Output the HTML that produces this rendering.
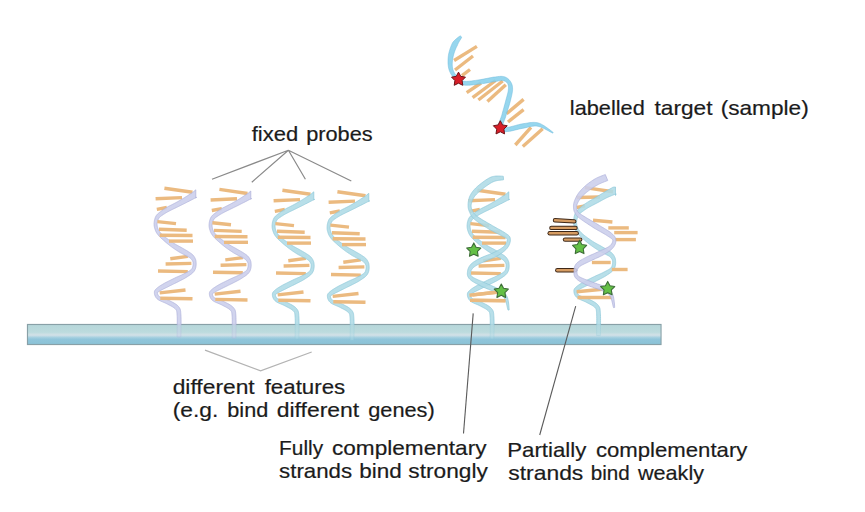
<!DOCTYPE html>
<html><head><meta charset="utf-8"><style>
html,body{margin:0;padding:0;background:#fff;}
svg{display:block;}
</style></head><body>
<svg width="865" height="512" viewBox="0 0 865 512">
<rect width="865" height="512" fill="#fff"/>
<defs><linearGradient id="bar" x1="0" y1="0" x2="0" y2="1">
<stop offset="0" stop-color="#b6d6da"/><stop offset="0.38" stop-color="#bcdbdd"/><stop offset="0.53" stop-color="#d3e1e7"/><stop offset="0.66" stop-color="#a3cfdf"/><stop offset="0.75" stop-color="#90c5da"/><stop offset="1" stop-color="#8bc2d6"/></linearGradient></defs><rect x="27.5" y="324.5" width="633.5" height="20" fill="url(#bar)" stroke="#88a0a7" stroke-width="1.2"/><g stroke="#ebba80" stroke-width="3.4" stroke-linecap="butt"><line x1="164.4" y1="188.2" x2="192.5" y2="192.3"/><line x1="155.6" y1="198.8" x2="182.0" y2="197.6"/><line x1="156.8" y1="209.3" x2="166.8" y2="207.5"/></g><g stroke="#ebba80" stroke-width="3.4" stroke-linecap="butt"><line x1="170.3" y1="258.7" x2="187.8" y2="256.4"/><line x1="165.6" y1="264.0" x2="191.4" y2="263.4"/><line x1="158.0" y1="271.0" x2="187.8" y2="271.6"/></g><path d="M195.80,189.80 L193.43,191.81 L192.87,192.20 L192.22,192.64 L191.48,193.14 L190.67,193.67 L189.82,194.23 L188.94,194.80 L188.05,195.38 L187.16,195.96 L186.30,196.52 L185.48,197.04 L184.73,197.53 L184.00,197.97 L183.28,198.40 L182.57,198.82 L181.86,199.23 L181.17,199.64 L180.47,200.04 L179.78,200.45 L179.09,200.85 L178.39,201.25 L177.68,201.65 L176.96,202.05 L176.24,202.46 L175.49,202.85 L174.72,203.25 L173.93,203.66 L173.12,204.07 L172.30,204.48 L171.49,204.89 L170.68,205.30 L169.88,205.70 L169.10,206.10 L168.34,206.50 L167.62,206.89 L166.94,207.27 L166.31,207.65 L165.71,208.01 L165.14,208.36 L164.60,208.70 L164.08,209.04 L163.58,209.37 L163.09,209.70 L162.62,210.03 L162.15,210.37 L161.70,210.71 L161.25,211.05 L160.82,211.39 L160.40,211.71 L159.99,212.03 L159.57,212.34 L159.15,212.67 L158.73,213.01 L158.30,213.36 L157.88,213.73 L157.46,214.13 L157.06,214.56 L156.67,215.02 L156.31,215.52 L155.97,216.05 L155.68,216.62 L155.41,217.20 L155.18,217.80 L154.97,218.41 L154.79,219.03 L154.63,219.65 L154.48,220.28 L154.37,220.90 L154.27,221.52 L154.19,222.12 L154.14,222.71 L154.10,223.28 L154.07,223.85 L154.07,224.42 L154.09,224.98 L154.14,225.53 L154.21,226.07 L154.30,226.59 L154.40,227.11 L154.52,227.61 L154.65,228.10 L154.79,228.57 L154.93,229.03 L155.08,229.48 L155.23,229.94 L155.40,230.38 L155.57,230.82 L155.76,231.25 L155.96,231.67 L156.17,232.08 L156.40,232.48 L156.64,232.89 L156.89,233.29 L157.16,233.68 L157.44,234.08 L157.74,234.48 L158.04,234.88 L158.35,235.27 L158.67,235.65 L159.00,236.03 L159.35,236.41 L159.71,236.79 L160.09,237.17 L160.49,237.56 L160.92,237.97 L161.38,238.39 L161.87,238.83 L162.40,239.29 L162.96,239.81 L163.57,240.36 L164.22,240.94 L164.91,241.54 L165.63,242.15 L166.36,242.77 L167.11,243.39 L167.87,244.01 L168.62,244.62 L169.36,245.21 L170.09,245.78 L170.79,246.32 L171.49,246.84 L172.18,247.35 L172.87,247.84 L173.56,248.32 L174.24,248.78 L174.91,249.24 L175.58,249.68 L176.23,250.11 L176.88,250.53 L177.51,250.95 L178.12,251.35 L178.72,251.75 L179.35,252.11 L179.98,252.46 L180.59,252.80 L181.19,253.12 L181.77,253.43 L182.34,253.74 L182.90,254.03 L183.44,254.32 L183.96,254.60 L184.47,254.88 L184.96,255.16 L185.46,255.45 L185.99,255.74 L186.53,256.01 L187.05,256.27 L187.54,256.51 L188.01,256.74 L188.46,256.97 L188.87,257.19 L189.25,257.41 L189.61,257.63 L189.93,257.85 L190.22,258.08 L190.50,258.33 L190.81,258.62 L191.11,258.94 L191.40,259.27 L191.68,259.60 L191.93,259.95 L192.17,260.30 L192.39,260.66 L192.58,261.02 L192.75,261.40 L192.90,261.79 L193.01,262.20 L193.11,262.63 L193.13,263.12 L193.13,263.66 L193.11,264.23 L193.07,264.81 L193.00,265.40 L192.90,265.99 L192.78,266.57 L192.62,267.14 L192.44,267.68 L192.22,268.19 L191.97,268.65 L191.69,269.08 L191.34,269.45 L190.93,269.83 L190.45,270.21 L189.90,270.59 L189.31,270.97 L188.68,271.35 L188.01,271.73 L187.31,272.10 L186.59,272.47 L185.87,272.84 L185.14,273.22 L184.43,273.59 L183.77,273.95 L183.13,274.28 L182.48,274.60 L181.81,274.91 L181.14,275.21 L180.44,275.52 L179.73,275.83 L179.00,276.14 L178.25,276.47 L177.47,276.81 L176.66,277.17 L175.84,277.55 L175.00,277.96 L174.12,278.39 L173.20,278.84 L172.26,279.30 L171.29,279.77 L170.32,280.24 L169.35,280.72 L168.39,281.19 L167.46,281.66 L166.55,282.11 L165.69,282.55 L164.88,282.98 L164.13,283.41 L163.41,283.84 L162.70,284.26 L162.01,284.67 L161.34,285.07 L160.70,285.48 L160.08,285.87 L159.49,286.26 L158.92,286.65 L158.39,287.03 L157.88,287.41 L157.43,287.78 L157.04,288.12 L156.69,288.42 L156.35,288.72 L156.01,289.03 L155.69,289.35 L155.38,289.70 L155.08,290.08 L154.82,290.52 L154.60,291.01 L154.46,291.53 L154.39,292.06 L154.40,292.58 L154.41,293.08 L154.45,293.59 L154.54,294.13 L154.66,294.69 L154.83,295.26 L155.05,295.85 L155.32,296.44 L155.65,297.03 L156.04,297.62 L156.50,298.19 L157.02,298.74 L157.62,299.27 L158.30,299.78 L159.05,300.24 L159.85,300.67 L160.69,301.07 L161.56,301.46 L162.45,301.83 L163.34,302.20 L164.23,302.57 L165.09,302.94 L165.91,303.31 L166.67,303.69 L167.39,304.08 L168.16,304.48 L168.96,304.89 L169.76,305.31 L170.56,305.72 L171.33,306.13 L172.08,306.55 L172.79,306.97 L173.45,307.38 L174.05,307.80 L174.57,308.21 L175.02,308.61 L175.40,309.02 L175.76,309.44 L176.05,309.81 L176.26,310.10 L176.40,310.33 L176.51,310.56 L176.61,310.83 L176.70,311.18 L176.78,311.67 L176.86,312.29 L176.94,313.07 L177.02,314.01 L177.10,315.12 L177.18,316.46 L177.22,318.11 L177.25,320.00 L177.26,322.06 L177.25,324.23 L177.23,326.44 L177.21,328.62 L177.18,330.73 L177.15,332.67 L177.12,334.41 L177.11,335.87 L177.10,336.99 L180.90,337.01 L180.91,335.91 L180.92,334.46 L180.95,332.73 L180.98,330.78 L181.01,328.67 L181.03,326.47 L181.05,324.25 L181.06,322.06 L181.05,319.97 L181.02,318.03 L180.97,316.31 L180.90,314.88 L180.82,313.73 L180.76,312.76 L180.69,311.91 L180.61,311.15 L180.51,310.46 L180.37,309.80 L180.17,309.17 L179.92,308.56 L179.60,308.00 L179.25,307.47 L178.86,306.95 L178.40,306.38 L177.81,305.75 L177.14,305.14 L176.42,304.58 L175.66,304.05 L174.88,303.55 L174.07,303.08 L173.25,302.62 L172.42,302.18 L171.60,301.75 L170.79,301.33 L170.00,300.93 L169.21,300.52 L168.34,300.13 L167.42,299.75 L166.49,299.41 L165.55,299.08 L164.62,298.77 L163.72,298.47 L162.85,298.17 L162.02,297.88 L161.27,297.58 L160.60,297.29 L160.03,297.01 L159.58,296.73 L159.20,296.42 L158.86,296.09 L158.57,295.73 L158.31,295.37 L158.09,294.99 L157.90,294.62 L157.74,294.24 L157.62,293.87 L157.52,293.51 L157.46,293.18 L157.42,292.87 L157.40,292.62 L157.45,292.46 L157.51,292.38 L157.57,292.34 L157.63,292.30 L157.73,292.25 L157.86,292.17 L158.05,292.05 L158.29,291.90 L158.59,291.73 L158.94,291.52 L159.35,291.28 L159.77,291.02 L160.20,290.75 L160.66,290.49 L161.15,290.21 L161.69,289.91 L162.27,289.61 L162.88,289.30 L163.52,288.98 L164.19,288.64 L164.89,288.30 L165.61,287.95 L166.36,287.59 L167.12,287.22 L167.90,286.82 L168.73,286.39 L169.61,285.95 L170.52,285.49 L171.47,285.03 L172.43,284.56 L173.39,284.09 L174.36,283.62 L175.31,283.16 L176.23,282.71 L177.12,282.27 L177.96,281.85 L178.74,281.44 L179.49,281.05 L180.23,280.68 L180.95,280.31 L181.67,279.94 L182.38,279.58 L183.09,279.21 L183.79,278.84 L184.49,278.46 L185.18,278.06 L185.88,277.64 L186.57,277.21 L187.23,276.77 L187.90,276.33 L188.59,275.88 L189.29,275.42 L190.00,274.94 L190.70,274.45 L191.39,273.94 L192.05,273.40 L192.69,272.84 L193.28,272.24 L193.83,271.60 L194.31,270.92 L194.74,270.23 L195.09,269.51 L195.39,268.77 L195.63,268.02 L195.82,267.27 L195.96,266.52 L196.06,265.78 L196.12,265.05 L196.16,264.34 L196.16,263.66 L196.14,263.00 L196.09,262.37 L196.06,261.74 L195.99,261.10 L195.87,260.48 L195.71,259.87 L195.52,259.28 L195.29,258.71 L195.04,258.16 L194.77,257.63 L194.47,257.12 L194.17,256.63 L193.84,256.15 L193.50,255.67 L193.09,255.19 L192.65,254.74 L192.19,254.31 L191.72,253.92 L191.24,253.56 L190.76,253.22 L190.27,252.89 L189.80,252.58 L189.32,252.27 L188.86,251.97 L188.41,251.66 L187.94,251.35 L187.43,251.03 L186.89,250.70 L186.35,250.38 L185.80,250.07 L185.25,249.75 L184.70,249.44 L184.14,249.12 L183.58,248.80 L183.01,248.48 L182.44,248.15 L181.86,247.81 L181.28,247.45 L180.64,247.11 L179.99,246.76 L179.33,246.41 L178.66,246.05 L177.99,245.69 L177.31,245.31 L176.63,244.93 L175.95,244.54 L175.26,244.14 L174.58,243.73 L173.89,243.31 L173.21,242.88 L172.50,242.42 L171.77,241.93 L171.01,241.41 L170.24,240.87 L169.47,240.32 L168.70,239.77 L167.94,239.22 L167.20,238.67 L166.49,238.14 L165.81,237.63 L165.18,237.15 L164.60,236.71 L164.09,236.27 L163.61,235.87 L163.17,235.49 L162.77,235.12 L162.39,234.78 L162.04,234.45 L161.71,234.13 L161.40,233.81 L161.11,233.50 L160.82,233.18 L160.54,232.86 L160.26,232.52 L159.99,232.18 L159.74,231.84 L159.50,231.52 L159.28,231.20 L159.07,230.88 L158.88,230.56 L158.69,230.24 L158.52,229.92 L158.36,229.59 L158.21,229.24 L158.06,228.89 L157.92,228.52 L157.79,228.12 L157.66,227.71 L157.54,227.30 L157.43,226.88 L157.34,226.46 L157.25,226.05 L157.18,225.62 L157.12,225.20 L157.09,224.78 L157.07,224.36 L157.07,223.94 L157.10,223.52 L157.17,223.07 L157.26,222.58 L157.37,222.08 L157.49,221.57 L157.64,221.06 L157.80,220.55 L157.98,220.05 L158.17,219.56 L158.37,219.10 L158.59,218.68 L158.81,218.29 L159.03,217.95 L159.25,217.64 L159.49,217.36 L159.75,217.10 L160.04,216.83 L160.35,216.58 L160.69,216.32 L161.05,216.06 L161.43,215.79 L161.84,215.51 L162.28,215.23 L162.73,214.93 L163.18,214.61 L163.62,214.31 L164.05,214.03 L164.48,213.75 L164.92,213.47 L165.36,213.19 L165.82,212.92 L166.30,212.64 L166.80,212.35 L167.32,212.06 L167.87,211.76 L168.45,211.45 L169.06,211.13 L169.70,210.79 L170.39,210.44 L171.12,210.07 L171.88,209.70 L172.67,209.31 L173.47,208.93 L174.30,208.53 L175.12,208.13 L175.95,207.73 L176.77,207.33 L177.58,206.94 L178.36,206.54 L179.12,206.17 L179.87,205.80 L180.61,205.44 L181.34,205.08 L182.07,204.72 L182.80,204.36 L183.53,203.99 L184.26,203.62 L185.00,203.24 L185.75,202.86 L186.50,202.47 L187.27,202.07 L188.10,201.66 L188.99,201.22 L189.92,200.75 L190.87,200.26 L191.83,199.77 L192.77,199.28 L193.68,198.81 L194.54,198.37 L195.33,197.97 L196.04,197.62 L196.65,197.33 L195.80,198.00Z" fill="#cbceec" fill-opacity="0.88" stroke="#adb0da" stroke-width="0.7" stroke-linejoin="round"/><g stroke="#ebba80" stroke-width="3.4" stroke-linecap="butt"><line x1="157.4" y1="221.6" x2="176.0" y2="223.6"/><line x1="159.0" y1="229.2" x2="186.7" y2="230.2"/><line x1="159.7" y1="235.3" x2="192.5" y2="235.5"/><line x1="169.0" y1="241.1" x2="193.0" y2="241.1"/></g><g stroke="#ebba80" stroke-width="3.4" stroke-linecap="butt"><line x1="159.7" y1="292.9" x2="185.5" y2="290.0"/><line x1="160.3" y1="298.2" x2="192.5" y2="298.8"/></g><g stroke="#ebba80" stroke-width="3.4" stroke-linecap="butt"><line x1="219.4" y1="189.4" x2="247.5" y2="193.5"/><line x1="210.6" y1="200.0" x2="237.0" y2="198.8"/><line x1="211.8" y1="210.5" x2="221.8" y2="208.7"/></g><g stroke="#ebba80" stroke-width="3.4" stroke-linecap="butt"><line x1="225.3" y1="259.9" x2="242.8" y2="257.6"/><line x1="220.6" y1="265.2" x2="246.4" y2="264.6"/><line x1="213.0" y1="272.2" x2="242.8" y2="272.8"/></g><path d="M250.80,191.00 L248.43,193.01 L247.87,193.40 L247.22,193.84 L246.48,194.34 L245.67,194.87 L244.82,195.43 L243.94,196.00 L243.05,196.58 L242.16,197.16 L241.30,197.72 L240.48,198.24 L239.73,198.73 L239.00,199.17 L238.28,199.60 L237.57,200.02 L236.86,200.43 L236.17,200.84 L235.47,201.24 L234.78,201.65 L234.09,202.05 L233.39,202.45 L232.68,202.85 L231.96,203.25 L231.24,203.66 L230.49,204.05 L229.72,204.45 L228.93,204.86 L228.12,205.27 L227.30,205.68 L226.49,206.09 L225.68,206.50 L224.88,206.90 L224.10,207.30 L223.34,207.70 L222.62,208.09 L221.94,208.47 L221.31,208.85 L220.71,209.21 L220.14,209.56 L219.60,209.90 L219.08,210.24 L218.58,210.57 L218.09,210.90 L217.62,211.23 L217.15,211.57 L216.70,211.91 L216.25,212.25 L215.82,212.59 L215.40,212.91 L214.99,213.23 L214.57,213.54 L214.15,213.87 L213.73,214.21 L213.30,214.56 L212.88,214.93 L212.46,215.33 L212.06,215.76 L211.67,216.22 L211.31,216.72 L210.97,217.25 L210.68,217.82 L210.41,218.40 L210.18,219.00 L209.97,219.61 L209.79,220.23 L209.63,220.85 L209.48,221.48 L209.37,222.10 L209.27,222.72 L209.19,223.32 L209.14,223.91 L209.10,224.48 L209.07,225.05 L209.07,225.62 L209.09,226.18 L209.14,226.73 L209.21,227.27 L209.30,227.79 L209.40,228.31 L209.52,228.81 L209.65,229.30 L209.79,229.77 L209.93,230.23 L210.08,230.68 L210.23,231.14 L210.40,231.58 L210.57,232.02 L210.76,232.45 L210.96,232.87 L211.17,233.28 L211.40,233.68 L211.64,234.09 L211.89,234.49 L212.16,234.88 L212.44,235.28 L212.74,235.68 L213.04,236.08 L213.35,236.47 L213.67,236.85 L214.00,237.23 L214.35,237.61 L214.71,237.99 L215.09,238.37 L215.49,238.76 L215.92,239.17 L216.38,239.59 L216.87,240.03 L217.40,240.49 L217.96,241.01 L218.57,241.56 L219.22,242.14 L219.91,242.74 L220.63,243.35 L221.36,243.97 L222.11,244.59 L222.87,245.21 L223.62,245.82 L224.36,246.41 L225.09,246.98 L225.79,247.52 L226.49,248.04 L227.18,248.55 L227.87,249.04 L228.56,249.52 L229.24,249.98 L229.91,250.44 L230.58,250.88 L231.23,251.31 L231.88,251.73 L232.51,252.15 L233.12,252.55 L233.72,252.95 L234.35,253.31 L234.98,253.66 L235.59,254.00 L236.19,254.32 L236.77,254.63 L237.34,254.94 L237.90,255.23 L238.44,255.52 L238.96,255.80 L239.47,256.08 L239.96,256.36 L240.46,256.65 L240.99,256.94 L241.53,257.21 L242.05,257.47 L242.54,257.71 L243.01,257.94 L243.46,258.17 L243.87,258.39 L244.25,258.61 L244.61,258.83 L244.93,259.05 L245.22,259.28 L245.50,259.53 L245.81,259.82 L246.11,260.14 L246.40,260.47 L246.68,260.80 L246.93,261.15 L247.17,261.50 L247.39,261.86 L247.58,262.22 L247.75,262.60 L247.90,262.99 L248.01,263.40 L248.11,263.83 L248.13,264.32 L248.13,264.86 L248.11,265.43 L248.07,266.01 L248.00,266.60 L247.90,267.19 L247.78,267.77 L247.62,268.34 L247.44,268.88 L247.22,269.39 L246.97,269.85 L246.69,270.28 L246.34,270.65 L245.93,271.03 L245.45,271.41 L244.90,271.79 L244.31,272.17 L243.68,272.55 L243.01,272.93 L242.31,273.30 L241.59,273.67 L240.87,274.04 L240.14,274.42 L239.43,274.79 L238.77,275.15 L238.13,275.48 L237.48,275.80 L236.81,276.11 L236.14,276.41 L235.44,276.72 L234.73,277.03 L234.00,277.34 L233.25,277.67 L232.47,278.01 L231.66,278.37 L230.84,278.75 L230.00,279.16 L229.12,279.59 L228.20,280.04 L227.26,280.50 L226.29,280.97 L225.32,281.44 L224.35,281.92 L223.39,282.39 L222.46,282.86 L221.55,283.31 L220.69,283.75 L219.88,284.18 L219.13,284.61 L218.41,285.04 L217.70,285.46 L217.01,285.87 L216.34,286.27 L215.70,286.68 L215.08,287.07 L214.49,287.46 L213.92,287.85 L213.39,288.23 L212.88,288.61 L212.43,288.98 L212.04,289.32 L211.69,289.62 L211.35,289.92 L211.01,290.23 L210.69,290.55 L210.38,290.90 L210.08,291.28 L209.82,291.72 L209.60,292.21 L209.46,292.73 L209.39,293.26 L209.40,293.78 L209.41,294.28 L209.45,294.79 L209.54,295.33 L209.66,295.89 L209.83,296.46 L210.05,297.05 L210.32,297.64 L210.65,298.23 L211.04,298.82 L211.50,299.39 L212.02,299.94 L212.62,300.47 L213.30,300.98 L214.05,301.44 L214.85,301.87 L215.69,302.27 L216.56,302.66 L217.45,303.03 L218.34,303.40 L219.23,303.77 L220.09,304.14 L220.91,304.51 L221.67,304.89 L222.39,305.28 L223.16,305.68 L223.96,306.09 L224.76,306.51 L225.56,306.92 L226.33,307.33 L227.08,307.75 L227.79,308.17 L228.45,308.58 L229.05,309.00 L229.57,309.41 L230.02,309.81 L230.40,310.22 L230.76,310.64 L231.05,311.01 L231.26,311.30 L231.40,311.53 L231.51,311.76 L231.61,312.03 L231.70,312.38 L231.78,312.87 L231.86,313.49 L231.94,314.27 L232.02,315.21 L232.10,316.32 L232.18,317.66 L232.22,319.31 L232.25,321.20 L232.26,323.26 L232.25,325.43 L232.23,327.64 L232.21,329.82 L232.18,331.93 L232.15,333.87 L232.12,335.61 L232.11,337.07 L232.10,338.19 L235.90,338.21 L235.91,337.11 L235.92,335.66 L235.95,333.93 L235.98,331.98 L236.01,329.87 L236.03,327.67 L236.05,325.45 L236.06,323.26 L236.05,321.17 L236.02,319.23 L235.97,317.51 L235.90,316.08 L235.82,314.93 L235.76,313.96 L235.69,313.11 L235.61,312.35 L235.51,311.66 L235.37,311.00 L235.17,310.37 L234.92,309.76 L234.60,309.20 L234.25,308.67 L233.86,308.15 L233.40,307.58 L232.81,306.95 L232.14,306.34 L231.42,305.78 L230.66,305.25 L229.88,304.75 L229.07,304.28 L228.25,303.82 L227.42,303.38 L226.60,302.95 L225.79,302.53 L225.00,302.13 L224.21,301.72 L223.34,301.33 L222.42,300.95 L221.49,300.61 L220.55,300.28 L219.62,299.97 L218.72,299.67 L217.85,299.37 L217.02,299.08 L216.27,298.78 L215.60,298.49 L215.03,298.21 L214.58,297.93 L214.20,297.62 L213.86,297.29 L213.57,296.93 L213.31,296.57 L213.09,296.19 L212.90,295.82 L212.74,295.44 L212.62,295.07 L212.52,294.71 L212.46,294.38 L212.42,294.07 L212.40,293.82 L212.45,293.66 L212.51,293.58 L212.57,293.54 L212.63,293.50 L212.73,293.45 L212.86,293.37 L213.05,293.25 L213.29,293.10 L213.59,292.93 L213.94,292.72 L214.35,292.48 L214.77,292.22 L215.20,291.95 L215.66,291.69 L216.15,291.41 L216.69,291.11 L217.27,290.81 L217.88,290.50 L218.52,290.18 L219.19,289.84 L219.89,289.50 L220.61,289.15 L221.36,288.79 L222.12,288.42 L222.90,288.02 L223.73,287.59 L224.61,287.15 L225.52,286.69 L226.47,286.23 L227.43,285.76 L228.39,285.29 L229.36,284.82 L230.31,284.36 L231.23,283.91 L232.12,283.47 L232.96,283.05 L233.74,282.64 L234.49,282.25 L235.23,281.88 L235.95,281.51 L236.67,281.14 L237.38,280.78 L238.09,280.41 L238.79,280.04 L239.49,279.66 L240.18,279.26 L240.88,278.84 L241.57,278.41 L242.23,277.97 L242.90,277.53 L243.59,277.08 L244.29,276.62 L245.00,276.14 L245.70,275.65 L246.39,275.14 L247.05,274.60 L247.69,274.04 L248.28,273.44 L248.83,272.80 L249.31,272.12 L249.74,271.43 L250.09,270.71 L250.39,269.97 L250.63,269.22 L250.82,268.47 L250.96,267.72 L251.06,266.98 L251.12,266.25 L251.16,265.54 L251.16,264.86 L251.14,264.20 L251.09,263.57 L251.06,262.94 L250.99,262.30 L250.87,261.68 L250.71,261.07 L250.52,260.48 L250.29,259.91 L250.04,259.36 L249.77,258.83 L249.47,258.32 L249.17,257.83 L248.84,257.35 L248.50,256.87 L248.09,256.39 L247.65,255.94 L247.19,255.51 L246.72,255.12 L246.24,254.76 L245.76,254.42 L245.27,254.09 L244.80,253.78 L244.32,253.47 L243.86,253.17 L243.41,252.86 L242.94,252.55 L242.43,252.23 L241.89,251.90 L241.35,251.58 L240.80,251.27 L240.25,250.95 L239.70,250.64 L239.14,250.32 L238.58,250.00 L238.01,249.68 L237.44,249.35 L236.86,249.01 L236.28,248.65 L235.64,248.31 L234.99,247.96 L234.33,247.61 L233.66,247.25 L232.99,246.89 L232.31,246.51 L231.63,246.13 L230.95,245.74 L230.26,245.34 L229.58,244.93 L228.89,244.51 L228.21,244.08 L227.50,243.62 L226.77,243.13 L226.01,242.61 L225.24,242.07 L224.47,241.52 L223.70,240.97 L222.94,240.42 L222.20,239.87 L221.49,239.34 L220.81,238.83 L220.18,238.35 L219.60,237.91 L219.09,237.47 L218.61,237.07 L218.17,236.69 L217.77,236.32 L217.39,235.98 L217.04,235.65 L216.71,235.33 L216.40,235.01 L216.11,234.70 L215.82,234.38 L215.54,234.06 L215.26,233.72 L214.99,233.38 L214.74,233.04 L214.50,232.72 L214.28,232.40 L214.07,232.08 L213.88,231.76 L213.69,231.44 L213.52,231.12 L213.36,230.79 L213.21,230.44 L213.06,230.09 L212.92,229.72 L212.79,229.32 L212.66,228.91 L212.54,228.50 L212.43,228.08 L212.34,227.66 L212.25,227.25 L212.18,226.82 L212.12,226.40 L212.09,225.98 L212.07,225.56 L212.07,225.14 L212.10,224.72 L212.17,224.27 L212.26,223.78 L212.37,223.28 L212.49,222.77 L212.64,222.26 L212.80,221.75 L212.98,221.25 L213.17,220.76 L213.37,220.30 L213.59,219.88 L213.81,219.49 L214.03,219.15 L214.25,218.84 L214.49,218.56 L214.75,218.30 L215.04,218.03 L215.35,217.78 L215.69,217.52 L216.05,217.26 L216.43,216.99 L216.84,216.71 L217.28,216.43 L217.73,216.13 L218.18,215.81 L218.62,215.51 L219.05,215.23 L219.48,214.95 L219.92,214.67 L220.36,214.39 L220.82,214.12 L221.30,213.84 L221.80,213.55 L222.32,213.26 L222.87,212.96 L223.45,212.65 L224.06,212.33 L224.70,211.99 L225.39,211.64 L226.12,211.27 L226.88,210.90 L227.67,210.51 L228.47,210.13 L229.30,209.73 L230.12,209.33 L230.95,208.93 L231.77,208.53 L232.58,208.14 L233.36,207.74 L234.12,207.37 L234.87,207.00 L235.61,206.64 L236.34,206.28 L237.07,205.92 L237.80,205.56 L238.53,205.19 L239.26,204.82 L240.00,204.44 L240.75,204.06 L241.50,203.67 L242.27,203.27 L243.10,202.86 L243.99,202.42 L244.92,201.95 L245.87,201.46 L246.83,200.97 L247.77,200.48 L248.68,200.01 L249.54,199.57 L250.33,199.17 L251.04,198.82 L251.65,198.53 L250.80,199.20Z" fill="#cbceec" fill-opacity="0.88" stroke="#adb0da" stroke-width="0.7" stroke-linejoin="round"/><g stroke="#ebba80" stroke-width="3.4" stroke-linecap="butt"><line x1="212.4" y1="222.8" x2="231.0" y2="224.8"/><line x1="214.0" y1="230.4" x2="241.7" y2="231.4"/><line x1="214.7" y1="236.5" x2="247.5" y2="236.7"/><line x1="224.0" y1="242.3" x2="248.0" y2="242.3"/></g><g stroke="#ebba80" stroke-width="3.4" stroke-linecap="butt"><line x1="214.7" y1="294.1" x2="240.5" y2="291.2"/><line x1="215.3" y1="299.4" x2="247.5" y2="300.0"/></g><g stroke="#ebba80" stroke-width="3.4" stroke-linecap="butt"><line x1="282.4" y1="190.2" x2="310.5" y2="194.3"/><line x1="273.6" y1="200.8" x2="300.0" y2="199.6"/><line x1="274.8" y1="211.3" x2="284.8" y2="209.5"/></g><g stroke="#ebba80" stroke-width="3.4" stroke-linecap="butt"><line x1="288.3" y1="260.7" x2="305.8" y2="258.4"/><line x1="283.6" y1="266.0" x2="309.4" y2="265.4"/><line x1="276.0" y1="273.0" x2="305.8" y2="273.6"/></g><path d="M313.80,191.80 L311.43,193.81 L310.87,194.20 L310.22,194.64 L309.48,195.14 L308.67,195.67 L307.82,196.23 L306.94,196.80 L306.05,197.38 L305.16,197.96 L304.30,198.52 L303.48,199.04 L302.73,199.53 L302.00,199.97 L301.28,200.40 L300.57,200.82 L299.86,201.23 L299.17,201.64 L298.47,202.04 L297.78,202.45 L297.09,202.85 L296.39,203.25 L295.68,203.65 L294.96,204.05 L294.24,204.46 L293.49,204.85 L292.72,205.25 L291.93,205.66 L291.12,206.07 L290.30,206.48 L289.49,206.89 L288.68,207.30 L287.88,207.70 L287.10,208.10 L286.34,208.50 L285.62,208.89 L284.94,209.27 L284.31,209.65 L283.71,210.01 L283.14,210.36 L282.60,210.70 L282.08,211.04 L281.58,211.37 L281.09,211.70 L280.62,212.03 L280.15,212.37 L279.70,212.71 L279.25,213.05 L278.82,213.39 L278.40,213.71 L277.99,214.03 L277.57,214.34 L277.15,214.67 L276.73,215.01 L276.30,215.36 L275.88,215.73 L275.46,216.13 L275.06,216.56 L274.67,217.02 L274.31,217.52 L273.97,218.05 L273.68,218.62 L273.41,219.20 L273.18,219.80 L272.97,220.41 L272.79,221.03 L272.63,221.65 L272.48,222.28 L272.37,222.90 L272.27,223.52 L272.19,224.12 L272.14,224.71 L272.10,225.28 L272.07,225.85 L272.07,226.42 L272.09,226.98 L272.14,227.53 L272.21,228.07 L272.30,228.59 L272.40,229.11 L272.52,229.61 L272.65,230.10 L272.79,230.57 L272.93,231.03 L273.08,231.48 L273.23,231.94 L273.40,232.38 L273.57,232.82 L273.76,233.25 L273.96,233.67 L274.17,234.08 L274.40,234.48 L274.64,234.89 L274.89,235.29 L275.16,235.68 L275.44,236.08 L275.74,236.48 L276.04,236.88 L276.35,237.27 L276.67,237.65 L277.00,238.03 L277.35,238.41 L277.71,238.79 L278.09,239.17 L278.49,239.56 L278.92,239.97 L279.38,240.39 L279.87,240.83 L280.40,241.29 L280.96,241.81 L281.57,242.36 L282.22,242.94 L282.91,243.54 L283.63,244.15 L284.36,244.77 L285.11,245.39 L285.87,246.01 L286.62,246.62 L287.36,247.21 L288.09,247.78 L288.79,248.32 L289.49,248.84 L290.18,249.35 L290.87,249.84 L291.56,250.32 L292.24,250.78 L292.91,251.24 L293.58,251.68 L294.23,252.11 L294.88,252.53 L295.51,252.95 L296.12,253.35 L296.72,253.75 L297.35,254.11 L297.98,254.46 L298.59,254.80 L299.19,255.12 L299.77,255.43 L300.34,255.74 L300.90,256.03 L301.44,256.32 L301.96,256.60 L302.47,256.88 L302.96,257.16 L303.46,257.45 L303.99,257.74 L304.53,258.01 L305.05,258.27 L305.54,258.51 L306.01,258.74 L306.46,258.97 L306.87,259.19 L307.25,259.41 L307.61,259.63 L307.93,259.85 L308.22,260.08 L308.50,260.33 L308.81,260.62 L309.11,260.94 L309.40,261.27 L309.68,261.60 L309.93,261.95 L310.17,262.30 L310.39,262.66 L310.58,263.02 L310.75,263.40 L310.90,263.79 L311.01,264.20 L311.11,264.63 L311.13,265.12 L311.13,265.66 L311.11,266.23 L311.07,266.81 L311.00,267.40 L310.90,267.99 L310.78,268.57 L310.62,269.14 L310.44,269.68 L310.22,270.19 L309.97,270.65 L309.69,271.08 L309.34,271.45 L308.93,271.83 L308.45,272.21 L307.90,272.59 L307.31,272.97 L306.68,273.35 L306.01,273.73 L305.31,274.10 L304.59,274.47 L303.87,274.84 L303.14,275.22 L302.43,275.59 L301.77,275.95 L301.13,276.28 L300.48,276.60 L299.81,276.91 L299.14,277.21 L298.44,277.52 L297.73,277.83 L297.00,278.14 L296.25,278.47 L295.47,278.81 L294.66,279.17 L293.84,279.55 L293.00,279.96 L292.12,280.39 L291.20,280.84 L290.26,281.30 L289.29,281.77 L288.32,282.24 L287.35,282.72 L286.39,283.19 L285.46,283.66 L284.55,284.11 L283.69,284.55 L282.88,284.98 L282.13,285.41 L281.41,285.84 L280.70,286.26 L280.01,286.67 L279.34,287.07 L278.70,287.48 L278.08,287.87 L277.49,288.26 L276.92,288.65 L276.39,289.03 L275.88,289.41 L275.43,289.78 L275.04,290.12 L274.69,290.42 L274.35,290.72 L274.01,291.03 L273.69,291.35 L273.38,291.70 L273.08,292.08 L272.82,292.52 L272.60,293.01 L272.46,293.53 L272.39,294.06 L272.40,294.58 L272.41,295.08 L272.45,295.59 L272.54,296.13 L272.66,296.69 L272.83,297.26 L273.05,297.85 L273.32,298.44 L273.65,299.03 L274.04,299.62 L274.50,300.19 L275.02,300.74 L275.62,301.27 L276.30,301.78 L277.05,302.24 L277.85,302.67 L278.69,303.07 L279.56,303.46 L280.45,303.83 L281.34,304.20 L282.23,304.57 L283.09,304.94 L283.91,305.31 L284.67,305.69 L285.39,306.08 L286.16,306.48 L286.96,306.89 L287.76,307.31 L288.56,307.72 L289.33,308.13 L290.08,308.55 L290.79,308.97 L291.45,309.38 L292.05,309.80 L292.57,310.21 L293.02,310.61 L293.40,311.02 L293.76,311.44 L294.05,311.81 L294.26,312.10 L294.40,312.33 L294.51,312.56 L294.61,312.83 L294.70,313.18 L294.78,313.67 L294.86,314.29 L294.94,315.07 L295.02,316.01 L295.10,317.12 L295.18,318.46 L295.22,320.11 L295.25,322.00 L295.26,324.06 L295.25,326.23 L295.23,328.44 L295.21,330.62 L295.18,332.73 L295.15,334.67 L295.12,336.41 L295.11,337.87 L295.10,338.99 L298.90,339.01 L298.91,337.91 L298.92,336.46 L298.95,334.73 L298.98,332.78 L299.01,330.67 L299.03,328.47 L299.05,326.25 L299.06,324.06 L299.05,321.97 L299.02,320.03 L298.97,318.31 L298.90,316.88 L298.82,315.73 L298.76,314.76 L298.69,313.91 L298.61,313.15 L298.51,312.46 L298.37,311.80 L298.17,311.17 L297.92,310.56 L297.60,310.00 L297.25,309.47 L296.86,308.95 L296.40,308.38 L295.81,307.75 L295.14,307.14 L294.42,306.58 L293.66,306.05 L292.88,305.55 L292.07,305.08 L291.25,304.62 L290.42,304.18 L289.60,303.75 L288.79,303.33 L288.00,302.93 L287.21,302.52 L286.34,302.13 L285.42,301.75 L284.49,301.41 L283.55,301.08 L282.62,300.77 L281.72,300.47 L280.85,300.17 L280.02,299.88 L279.27,299.58 L278.60,299.29 L278.03,299.01 L277.58,298.73 L277.20,298.42 L276.86,298.09 L276.57,297.73 L276.31,297.37 L276.09,296.99 L275.90,296.62 L275.74,296.24 L275.62,295.87 L275.52,295.51 L275.46,295.18 L275.42,294.87 L275.40,294.62 L275.45,294.46 L275.51,294.38 L275.57,294.34 L275.63,294.30 L275.73,294.25 L275.86,294.17 L276.05,294.05 L276.29,293.90 L276.59,293.73 L276.94,293.52 L277.35,293.28 L277.77,293.02 L278.20,292.75 L278.66,292.49 L279.15,292.21 L279.69,291.91 L280.27,291.61 L280.88,291.30 L281.52,290.98 L282.19,290.64 L282.89,290.30 L283.61,289.95 L284.36,289.59 L285.12,289.22 L285.90,288.82 L286.73,288.39 L287.61,287.95 L288.52,287.49 L289.47,287.03 L290.43,286.56 L291.39,286.09 L292.36,285.62 L293.31,285.16 L294.23,284.71 L295.12,284.27 L295.96,283.85 L296.74,283.44 L297.49,283.05 L298.23,282.68 L298.95,282.31 L299.67,281.94 L300.38,281.58 L301.09,281.21 L301.79,280.84 L302.49,280.46 L303.18,280.06 L303.88,279.64 L304.57,279.21 L305.23,278.77 L305.90,278.33 L306.59,277.88 L307.29,277.42 L308.00,276.94 L308.70,276.45 L309.39,275.94 L310.05,275.40 L310.69,274.84 L311.28,274.24 L311.83,273.60 L312.31,272.92 L312.74,272.23 L313.09,271.51 L313.39,270.77 L313.63,270.02 L313.82,269.27 L313.96,268.52 L314.06,267.78 L314.12,267.05 L314.16,266.34 L314.16,265.66 L314.14,265.00 L314.09,264.37 L314.06,263.74 L313.99,263.10 L313.87,262.48 L313.71,261.87 L313.52,261.28 L313.29,260.71 L313.04,260.16 L312.77,259.63 L312.47,259.12 L312.17,258.63 L311.84,258.15 L311.50,257.67 L311.09,257.19 L310.65,256.74 L310.19,256.31 L309.72,255.92 L309.24,255.56 L308.76,255.22 L308.27,254.89 L307.80,254.58 L307.32,254.27 L306.86,253.97 L306.41,253.66 L305.94,253.35 L305.43,253.03 L304.89,252.70 L304.35,252.38 L303.80,252.07 L303.25,251.75 L302.70,251.44 L302.14,251.12 L301.58,250.80 L301.01,250.48 L300.44,250.15 L299.86,249.81 L299.28,249.45 L298.64,249.11 L297.99,248.76 L297.33,248.41 L296.66,248.05 L295.99,247.69 L295.31,247.31 L294.63,246.93 L293.95,246.54 L293.26,246.14 L292.58,245.73 L291.89,245.31 L291.21,244.88 L290.50,244.42 L289.77,243.93 L289.01,243.41 L288.24,242.87 L287.47,242.32 L286.70,241.77 L285.94,241.22 L285.20,240.67 L284.49,240.14 L283.81,239.63 L283.18,239.15 L282.60,238.71 L282.09,238.27 L281.61,237.87 L281.17,237.49 L280.77,237.12 L280.39,236.78 L280.04,236.45 L279.71,236.13 L279.40,235.81 L279.11,235.50 L278.82,235.18 L278.54,234.86 L278.26,234.52 L277.99,234.18 L277.74,233.84 L277.50,233.52 L277.28,233.20 L277.07,232.88 L276.88,232.56 L276.69,232.24 L276.52,231.92 L276.36,231.59 L276.21,231.24 L276.06,230.89 L275.92,230.52 L275.79,230.12 L275.66,229.71 L275.54,229.30 L275.43,228.88 L275.34,228.46 L275.25,228.05 L275.18,227.62 L275.12,227.20 L275.09,226.78 L275.07,226.36 L275.07,225.94 L275.10,225.52 L275.17,225.07 L275.26,224.58 L275.37,224.08 L275.49,223.57 L275.64,223.06 L275.80,222.55 L275.98,222.05 L276.17,221.56 L276.37,221.10 L276.59,220.68 L276.81,220.29 L277.03,219.95 L277.25,219.64 L277.49,219.36 L277.75,219.10 L278.04,218.83 L278.35,218.58 L278.69,218.32 L279.05,218.06 L279.43,217.79 L279.84,217.51 L280.28,217.23 L280.73,216.93 L281.18,216.61 L281.62,216.31 L282.05,216.03 L282.48,215.75 L282.92,215.47 L283.36,215.19 L283.82,214.92 L284.30,214.64 L284.80,214.35 L285.32,214.06 L285.87,213.76 L286.45,213.45 L287.06,213.13 L287.70,212.79 L288.39,212.44 L289.12,212.07 L289.88,211.70 L290.67,211.31 L291.47,210.93 L292.30,210.53 L293.12,210.13 L293.95,209.73 L294.77,209.33 L295.58,208.94 L296.36,208.54 L297.12,208.17 L297.87,207.80 L298.61,207.44 L299.34,207.08 L300.07,206.72 L300.80,206.36 L301.53,205.99 L302.26,205.62 L303.00,205.24 L303.75,204.86 L304.50,204.47 L305.27,204.07 L306.10,203.66 L306.99,203.22 L307.92,202.75 L308.87,202.26 L309.83,201.77 L310.77,201.28 L311.68,200.81 L312.54,200.37 L313.33,199.97 L314.04,199.62 L314.65,199.33 L313.80,200.00Z" fill="#aedbe6" fill-opacity="0.88" stroke="#8cc7d9" stroke-width="0.7" stroke-linejoin="round"/><g stroke="#ebba80" stroke-width="3.4" stroke-linecap="butt"><line x1="275.4" y1="223.6" x2="294.0" y2="225.6"/><line x1="277.0" y1="231.2" x2="304.7" y2="232.2"/><line x1="277.7" y1="237.3" x2="310.5" y2="237.5"/><line x1="287.0" y1="243.1" x2="311.0" y2="243.1"/></g><g stroke="#ebba80" stroke-width="3.4" stroke-linecap="butt"><line x1="277.7" y1="294.9" x2="303.5" y2="292.0"/><line x1="278.3" y1="300.2" x2="310.5" y2="300.8"/></g><g stroke="#ebba80" stroke-width="3.4" stroke-linecap="butt"><line x1="337.4" y1="191.7" x2="365.5" y2="195.8"/><line x1="328.6" y1="202.3" x2="355.0" y2="201.1"/><line x1="329.8" y1="212.8" x2="339.8" y2="211.0"/></g><g stroke="#ebba80" stroke-width="3.4" stroke-linecap="butt"><line x1="343.3" y1="262.2" x2="360.8" y2="259.9"/><line x1="338.6" y1="267.5" x2="364.4" y2="266.9"/><line x1="331.0" y1="274.5" x2="360.8" y2="275.1"/></g><path d="M368.80,193.30 L366.43,195.31 L365.87,195.70 L365.22,196.14 L364.48,196.64 L363.67,197.17 L362.82,197.73 L361.94,198.30 L361.05,198.88 L360.16,199.46 L359.30,200.02 L358.48,200.54 L357.73,201.03 L357.00,201.47 L356.28,201.90 L355.57,202.32 L354.86,202.73 L354.17,203.14 L353.47,203.54 L352.78,203.95 L352.09,204.35 L351.39,204.75 L350.68,205.15 L349.96,205.55 L349.24,205.96 L348.49,206.35 L347.72,206.75 L346.93,207.16 L346.12,207.57 L345.30,207.98 L344.49,208.39 L343.68,208.80 L342.88,209.20 L342.10,209.60 L341.34,210.00 L340.62,210.39 L339.94,210.77 L339.31,211.15 L338.71,211.51 L338.14,211.86 L337.60,212.20 L337.08,212.54 L336.58,212.87 L336.09,213.20 L335.62,213.53 L335.15,213.87 L334.70,214.21 L334.25,214.55 L333.82,214.89 L333.40,215.21 L332.99,215.53 L332.57,215.84 L332.15,216.17 L331.73,216.51 L331.30,216.86 L330.88,217.23 L330.46,217.63 L330.06,218.06 L329.67,218.52 L329.31,219.02 L328.97,219.55 L328.68,220.12 L328.41,220.70 L328.18,221.30 L327.97,221.91 L327.79,222.53 L327.63,223.15 L327.48,223.78 L327.37,224.40 L327.27,225.02 L327.19,225.62 L327.14,226.21 L327.10,226.78 L327.07,227.35 L327.07,227.92 L327.09,228.48 L327.14,229.03 L327.21,229.57 L327.30,230.09 L327.40,230.61 L327.52,231.11 L327.65,231.60 L327.79,232.07 L327.93,232.53 L328.08,232.98 L328.23,233.44 L328.40,233.88 L328.57,234.32 L328.76,234.75 L328.96,235.17 L329.17,235.58 L329.40,235.98 L329.64,236.39 L329.89,236.79 L330.16,237.18 L330.44,237.58 L330.74,237.98 L331.04,238.38 L331.35,238.77 L331.67,239.15 L332.00,239.53 L332.35,239.91 L332.71,240.29 L333.09,240.67 L333.49,241.06 L333.92,241.47 L334.38,241.89 L334.87,242.33 L335.40,242.79 L335.96,243.31 L336.57,243.86 L337.22,244.44 L337.91,245.04 L338.63,245.65 L339.36,246.27 L340.11,246.89 L340.87,247.51 L341.62,248.12 L342.36,248.71 L343.09,249.28 L343.79,249.82 L344.49,250.34 L345.18,250.85 L345.87,251.34 L346.56,251.82 L347.24,252.28 L347.91,252.74 L348.58,253.18 L349.23,253.61 L349.88,254.03 L350.51,254.45 L351.12,254.85 L351.72,255.25 L352.35,255.61 L352.98,255.96 L353.59,256.30 L354.19,256.62 L354.77,256.93 L355.34,257.24 L355.90,257.53 L356.44,257.82 L356.96,258.10 L357.47,258.38 L357.96,258.66 L358.46,258.95 L358.99,259.24 L359.53,259.51 L360.05,259.77 L360.54,260.01 L361.01,260.24 L361.46,260.47 L361.87,260.69 L362.25,260.91 L362.61,261.13 L362.93,261.35 L363.22,261.58 L363.50,261.83 L363.81,262.12 L364.11,262.44 L364.40,262.77 L364.68,263.10 L364.93,263.45 L365.17,263.80 L365.39,264.16 L365.58,264.52 L365.75,264.90 L365.90,265.29 L366.01,265.70 L366.11,266.13 L366.13,266.62 L366.13,267.16 L366.11,267.73 L366.07,268.31 L366.00,268.90 L365.90,269.49 L365.78,270.07 L365.62,270.64 L365.44,271.18 L365.22,271.69 L364.97,272.15 L364.69,272.58 L364.34,272.95 L363.93,273.33 L363.45,273.71 L362.90,274.09 L362.31,274.47 L361.68,274.85 L361.01,275.23 L360.31,275.60 L359.59,275.97 L358.87,276.34 L358.14,276.72 L357.43,277.09 L356.77,277.45 L356.13,277.78 L355.48,278.10 L354.81,278.41 L354.14,278.71 L353.44,279.02 L352.73,279.33 L352.00,279.64 L351.25,279.97 L350.47,280.31 L349.66,280.67 L348.84,281.05 L348.00,281.46 L347.12,281.89 L346.20,282.34 L345.26,282.80 L344.29,283.27 L343.32,283.74 L342.35,284.22 L341.39,284.69 L340.46,285.16 L339.55,285.61 L338.69,286.05 L337.88,286.48 L337.13,286.91 L336.41,287.34 L335.70,287.76 L335.01,288.17 L334.34,288.57 L333.70,288.98 L333.08,289.37 L332.49,289.76 L331.92,290.15 L331.39,290.53 L330.88,290.91 L330.43,291.28 L330.04,291.62 L329.69,291.92 L329.35,292.22 L329.01,292.53 L328.69,292.85 L328.38,293.20 L328.08,293.58 L327.82,294.02 L327.60,294.51 L327.46,295.03 L327.39,295.56 L327.40,296.08 L327.41,296.58 L327.45,297.09 L327.54,297.63 L327.66,298.19 L327.83,298.76 L328.05,299.35 L328.32,299.94 L328.65,300.53 L329.04,301.12 L329.50,301.69 L330.02,302.24 L330.62,302.77 L331.30,303.28 L332.05,303.74 L332.85,304.17 L333.69,304.57 L334.56,304.96 L335.45,305.33 L336.34,305.70 L337.23,306.07 L338.09,306.44 L338.91,306.81 L339.67,307.19 L340.39,307.58 L341.16,307.98 L341.96,308.39 L342.76,308.81 L343.56,309.22 L344.33,309.63 L345.08,310.05 L345.79,310.47 L346.45,310.88 L347.05,311.30 L347.57,311.71 L348.02,312.11 L348.40,312.52 L348.76,312.94 L349.05,313.31 L349.26,313.60 L349.40,313.83 L349.51,314.06 L349.61,314.33 L349.70,314.68 L349.78,315.17 L349.86,315.79 L349.94,316.57 L350.02,317.51 L350.10,318.62 L350.18,319.96 L350.22,321.61 L350.25,323.50 L350.26,325.56 L350.25,327.73 L350.23,329.94 L350.21,332.12 L350.18,334.23 L350.15,336.17 L350.12,337.91 L350.11,339.37 L350.10,340.49 L353.90,340.51 L353.91,339.41 L353.92,337.96 L353.95,336.23 L353.98,334.28 L354.01,332.17 L354.03,329.97 L354.05,327.75 L354.06,325.56 L354.05,323.47 L354.02,321.53 L353.97,319.81 L353.90,318.38 L353.82,317.23 L353.76,316.26 L353.69,315.41 L353.61,314.65 L353.51,313.96 L353.37,313.30 L353.17,312.67 L352.92,312.06 L352.60,311.50 L352.25,310.97 L351.86,310.45 L351.40,309.88 L350.81,309.25 L350.14,308.64 L349.42,308.08 L348.66,307.55 L347.88,307.05 L347.07,306.58 L346.25,306.12 L345.42,305.68 L344.60,305.25 L343.79,304.83 L343.00,304.43 L342.21,304.02 L341.34,303.63 L340.42,303.25 L339.49,302.91 L338.55,302.58 L337.62,302.27 L336.72,301.97 L335.85,301.67 L335.02,301.38 L334.27,301.08 L333.60,300.79 L333.03,300.51 L332.58,300.23 L332.20,299.92 L331.86,299.59 L331.57,299.23 L331.31,298.87 L331.09,298.49 L330.90,298.12 L330.74,297.74 L330.62,297.37 L330.52,297.01 L330.46,296.68 L330.42,296.37 L330.40,296.12 L330.45,295.96 L330.51,295.88 L330.57,295.84 L330.63,295.80 L330.73,295.75 L330.86,295.67 L331.05,295.55 L331.29,295.40 L331.59,295.23 L331.94,295.02 L332.35,294.78 L332.77,294.52 L333.20,294.25 L333.66,293.99 L334.15,293.71 L334.69,293.41 L335.27,293.11 L335.88,292.80 L336.52,292.48 L337.19,292.14 L337.89,291.80 L338.61,291.45 L339.36,291.09 L340.12,290.72 L340.90,290.32 L341.73,289.89 L342.61,289.45 L343.52,288.99 L344.47,288.53 L345.43,288.06 L346.39,287.59 L347.36,287.12 L348.31,286.66 L349.23,286.21 L350.12,285.77 L350.96,285.35 L351.74,284.94 L352.49,284.55 L353.23,284.18 L353.95,283.81 L354.67,283.44 L355.38,283.08 L356.09,282.71 L356.79,282.34 L357.49,281.96 L358.18,281.56 L358.88,281.14 L359.57,280.71 L360.23,280.27 L360.90,279.83 L361.59,279.38 L362.29,278.92 L363.00,278.44 L363.70,277.95 L364.39,277.44 L365.05,276.90 L365.69,276.34 L366.28,275.74 L366.83,275.10 L367.31,274.42 L367.74,273.73 L368.09,273.01 L368.39,272.27 L368.63,271.52 L368.82,270.77 L368.96,270.02 L369.06,269.28 L369.12,268.55 L369.16,267.84 L369.16,267.16 L369.14,266.50 L369.09,265.87 L369.06,265.24 L368.99,264.60 L368.87,263.98 L368.71,263.37 L368.52,262.78 L368.29,262.21 L368.04,261.66 L367.77,261.13 L367.47,260.62 L367.17,260.13 L366.84,259.65 L366.50,259.17 L366.09,258.69 L365.65,258.24 L365.19,257.81 L364.72,257.42 L364.24,257.06 L363.76,256.72 L363.27,256.39 L362.80,256.08 L362.32,255.77 L361.86,255.47 L361.41,255.16 L360.94,254.85 L360.43,254.53 L359.89,254.20 L359.35,253.88 L358.80,253.57 L358.25,253.25 L357.70,252.94 L357.14,252.62 L356.58,252.30 L356.01,251.98 L355.44,251.65 L354.86,251.31 L354.28,250.95 L353.64,250.61 L352.99,250.26 L352.33,249.91 L351.66,249.55 L350.99,249.19 L350.31,248.81 L349.63,248.43 L348.95,248.04 L348.26,247.64 L347.58,247.23 L346.89,246.81 L346.21,246.38 L345.50,245.92 L344.77,245.43 L344.01,244.91 L343.24,244.37 L342.47,243.82 L341.70,243.27 L340.94,242.72 L340.20,242.17 L339.49,241.64 L338.81,241.13 L338.18,240.65 L337.60,240.21 L337.09,239.77 L336.61,239.37 L336.17,238.99 L335.77,238.62 L335.39,238.28 L335.04,237.95 L334.71,237.63 L334.40,237.31 L334.11,237.00 L333.82,236.68 L333.54,236.36 L333.26,236.02 L332.99,235.68 L332.74,235.34 L332.50,235.02 L332.28,234.70 L332.07,234.38 L331.88,234.06 L331.69,233.74 L331.52,233.42 L331.36,233.09 L331.21,232.74 L331.06,232.39 L330.92,232.02 L330.79,231.62 L330.66,231.21 L330.54,230.80 L330.43,230.38 L330.34,229.96 L330.25,229.55 L330.18,229.12 L330.12,228.70 L330.09,228.28 L330.07,227.86 L330.07,227.44 L330.10,227.02 L330.17,226.57 L330.26,226.08 L330.37,225.58 L330.49,225.07 L330.64,224.56 L330.80,224.05 L330.98,223.55 L331.17,223.06 L331.37,222.60 L331.59,222.18 L331.81,221.79 L332.03,221.45 L332.25,221.14 L332.49,220.86 L332.75,220.60 L333.04,220.33 L333.35,220.08 L333.69,219.82 L334.05,219.56 L334.43,219.29 L334.84,219.01 L335.28,218.73 L335.73,218.43 L336.18,218.11 L336.62,217.81 L337.05,217.53 L337.48,217.25 L337.92,216.97 L338.36,216.69 L338.82,216.42 L339.30,216.14 L339.80,215.85 L340.32,215.56 L340.87,215.26 L341.45,214.95 L342.06,214.63 L342.70,214.29 L343.39,213.94 L344.12,213.57 L344.88,213.20 L345.67,212.81 L346.47,212.43 L347.30,212.03 L348.12,211.63 L348.95,211.23 L349.77,210.83 L350.58,210.44 L351.36,210.04 L352.12,209.67 L352.87,209.30 L353.61,208.94 L354.34,208.58 L355.07,208.22 L355.80,207.86 L356.53,207.49 L357.26,207.12 L358.00,206.74 L358.75,206.36 L359.50,205.97 L360.27,205.57 L361.10,205.16 L361.99,204.72 L362.92,204.25 L363.87,203.76 L364.83,203.27 L365.77,202.78 L366.68,202.31 L367.54,201.87 L368.33,201.47 L369.04,201.12 L369.65,200.83 L368.80,201.50Z" fill="#aedbe6" fill-opacity="0.88" stroke="#8cc7d9" stroke-width="0.7" stroke-linejoin="round"/><g stroke="#ebba80" stroke-width="3.4" stroke-linecap="butt"><line x1="330.4" y1="225.1" x2="349.0" y2="227.1"/><line x1="332.0" y1="232.7" x2="359.7" y2="233.7"/><line x1="332.7" y1="238.8" x2="365.5" y2="239.0"/><line x1="342.0" y1="244.6" x2="366.0" y2="244.6"/></g><g stroke="#ebba80" stroke-width="3.4" stroke-linecap="butt"><line x1="332.7" y1="296.4" x2="358.5" y2="293.5"/><line x1="333.3" y1="301.7" x2="365.5" y2="302.3"/></g><g stroke="#ebba80" stroke-width="3.4" stroke-linecap="butt"><line x1="477.4" y1="190.2" x2="505.5" y2="194.3"/><line x1="468.6" y1="200.8" x2="495.0" y2="199.6"/><line x1="469.8" y1="211.3" x2="479.8" y2="209.5"/></g><g stroke="#ebba80" stroke-width="3.4" stroke-linecap="butt"><line x1="483.3" y1="260.7" x2="500.8" y2="258.4"/><line x1="478.6" y1="266.0" x2="504.4" y2="265.4"/><line x1="471.0" y1="273.0" x2="500.8" y2="273.6"/></g><path d="M508.80,191.80 L506.43,193.81 L505.87,194.20 L505.22,194.64 L504.48,195.14 L503.67,195.67 L502.82,196.23 L501.94,196.80 L501.05,197.38 L500.16,197.96 L499.30,198.52 L498.48,199.04 L497.73,199.53 L497.00,199.97 L496.28,200.40 L495.57,200.82 L494.86,201.23 L494.17,201.64 L493.47,202.04 L492.78,202.45 L492.09,202.85 L491.39,203.25 L490.68,203.65 L489.96,204.05 L489.24,204.46 L488.49,204.85 L487.72,205.25 L486.93,205.66 L486.12,206.07 L485.30,206.48 L484.49,206.89 L483.68,207.30 L482.88,207.70 L482.10,208.10 L481.34,208.50 L480.62,208.89 L479.94,209.27 L479.31,209.65 L478.71,210.01 L478.14,210.36 L477.60,210.70 L477.08,211.04 L476.58,211.37 L476.09,211.70 L475.62,212.03 L475.15,212.37 L474.70,212.71 L474.25,213.05 L473.82,213.39 L473.40,213.71 L472.99,214.03 L472.57,214.34 L472.15,214.67 L471.73,215.01 L471.30,215.36 L470.88,215.73 L470.46,216.13 L470.06,216.56 L469.67,217.02 L469.31,217.52 L468.97,218.05 L468.68,218.62 L468.41,219.20 L468.18,219.80 L467.97,220.41 L467.79,221.03 L467.63,221.65 L467.48,222.28 L467.37,222.90 L467.27,223.52 L467.19,224.12 L467.14,224.71 L467.10,225.28 L467.07,225.85 L467.07,226.42 L467.09,226.98 L467.14,227.53 L467.21,228.07 L467.30,228.59 L467.40,229.11 L467.52,229.61 L467.65,230.10 L467.79,230.57 L467.93,231.03 L468.08,231.48 L468.23,231.94 L468.40,232.38 L468.57,232.82 L468.76,233.25 L468.96,233.67 L469.17,234.08 L469.40,234.48 L469.64,234.89 L469.89,235.29 L470.16,235.68 L470.44,236.08 L470.74,236.48 L471.04,236.88 L471.35,237.27 L471.67,237.65 L472.00,238.03 L472.35,238.41 L472.71,238.79 L473.09,239.17 L473.49,239.56 L473.92,239.97 L474.38,240.39 L474.87,240.83 L475.40,241.29 L475.96,241.81 L476.57,242.36 L477.22,242.94 L477.91,243.54 L478.63,244.15 L479.36,244.77 L480.11,245.39 L480.87,246.01 L481.62,246.62 L482.36,247.21 L483.09,247.78 L483.79,248.32 L484.49,248.84 L485.18,249.35 L485.87,249.84 L486.56,250.32 L487.24,250.78 L487.91,251.24 L488.58,251.68 L489.23,252.11 L489.88,252.53 L490.51,252.95 L491.12,253.35 L491.72,253.75 L492.35,254.11 L492.98,254.46 L493.59,254.80 L494.19,255.12 L494.77,255.43 L495.34,255.74 L495.90,256.03 L496.44,256.32 L496.96,256.60 L497.47,256.88 L497.96,257.16 L498.46,257.45 L498.99,257.74 L499.53,258.01 L500.05,258.27 L500.54,258.51 L501.01,258.74 L501.46,258.97 L501.87,259.19 L502.25,259.41 L502.61,259.63 L502.93,259.85 L503.22,260.08 L503.50,260.33 L503.81,260.62 L504.11,260.94 L504.40,261.27 L504.68,261.60 L504.93,261.95 L505.17,262.30 L505.39,262.66 L505.58,263.02 L505.75,263.40 L505.90,263.79 L506.01,264.20 L506.11,264.63 L506.13,265.12 L506.13,265.66 L506.11,266.23 L506.07,266.81 L506.00,267.40 L505.90,267.99 L505.78,268.57 L505.62,269.14 L505.44,269.68 L505.22,270.19 L504.97,270.65 L504.69,271.08 L504.34,271.45 L503.93,271.83 L503.45,272.21 L502.90,272.59 L502.31,272.97 L501.68,273.35 L501.01,273.73 L500.31,274.10 L499.59,274.47 L498.87,274.84 L498.14,275.22 L497.43,275.59 L496.77,275.95 L496.13,276.28 L495.48,276.60 L494.81,276.91 L494.14,277.21 L493.44,277.52 L492.73,277.83 L492.00,278.14 L491.25,278.47 L490.47,278.81 L489.66,279.17 L488.84,279.55 L488.00,279.96 L487.12,280.39 L486.20,280.84 L485.26,281.30 L484.29,281.77 L483.32,282.24 L482.35,282.72 L481.39,283.19 L480.46,283.66 L479.55,284.11 L478.69,284.55 L477.88,284.98 L477.13,285.41 L476.41,285.84 L475.70,286.26 L475.01,286.67 L474.34,287.07 L473.70,287.48 L473.08,287.87 L472.49,288.26 L471.92,288.65 L471.39,289.03 L470.88,289.41 L470.43,289.78 L470.04,290.12 L469.69,290.42 L469.35,290.72 L469.01,291.03 L468.69,291.35 L468.38,291.70 L468.08,292.08 L467.82,292.52 L467.60,293.01 L467.46,293.53 L467.39,294.06 L467.40,294.58 L467.41,295.08 L467.45,295.59 L467.54,296.13 L467.66,296.69 L467.83,297.26 L468.05,297.85 L468.32,298.44 L468.65,299.03 L469.04,299.62 L469.50,300.19 L470.02,300.74 L470.62,301.27 L471.30,301.78 L472.05,302.24 L472.85,302.67 L473.69,303.07 L474.56,303.46 L475.45,303.83 L476.34,304.20 L477.23,304.57 L478.09,304.94 L478.91,305.31 L479.67,305.69 L480.39,306.08 L481.16,306.48 L481.96,306.89 L482.76,307.31 L483.56,307.72 L484.33,308.13 L485.08,308.55 L485.79,308.97 L486.45,309.38 L487.05,309.80 L487.57,310.21 L488.02,310.61 L488.40,311.02 L488.76,311.44 L489.05,311.81 L489.26,312.10 L489.40,312.33 L489.51,312.56 L489.61,312.83 L489.70,313.18 L489.78,313.67 L489.86,314.29 L489.94,315.07 L490.02,316.01 L490.10,317.12 L490.18,318.46 L490.22,320.11 L490.25,322.00 L490.26,324.06 L490.25,326.23 L490.23,328.44 L490.21,330.62 L490.18,332.73 L490.15,334.67 L490.12,336.41 L490.11,337.87 L490.10,338.99 L493.90,339.01 L493.91,337.91 L493.92,336.46 L493.95,334.73 L493.98,332.78 L494.01,330.67 L494.03,328.47 L494.05,326.25 L494.06,324.06 L494.05,321.97 L494.02,320.03 L493.97,318.31 L493.90,316.88 L493.82,315.73 L493.76,314.76 L493.69,313.91 L493.61,313.15 L493.51,312.46 L493.37,311.80 L493.17,311.17 L492.92,310.56 L492.60,310.00 L492.25,309.47 L491.86,308.95 L491.40,308.38 L490.81,307.75 L490.14,307.14 L489.42,306.58 L488.66,306.05 L487.88,305.55 L487.07,305.08 L486.25,304.62 L485.42,304.18 L484.60,303.75 L483.79,303.33 L483.00,302.93 L482.21,302.52 L481.34,302.13 L480.42,301.75 L479.49,301.41 L478.55,301.08 L477.62,300.77 L476.72,300.47 L475.85,300.17 L475.02,299.88 L474.27,299.58 L473.60,299.29 L473.03,299.01 L472.58,298.73 L472.20,298.42 L471.86,298.09 L471.57,297.73 L471.31,297.37 L471.09,296.99 L470.90,296.62 L470.74,296.24 L470.62,295.87 L470.52,295.51 L470.46,295.18 L470.42,294.87 L470.40,294.62 L470.45,294.46 L470.51,294.38 L470.57,294.34 L470.63,294.30 L470.73,294.25 L470.86,294.17 L471.05,294.05 L471.29,293.90 L471.59,293.73 L471.94,293.52 L472.35,293.28 L472.77,293.02 L473.20,292.75 L473.66,292.49 L474.15,292.21 L474.69,291.91 L475.27,291.61 L475.88,291.30 L476.52,290.98 L477.19,290.64 L477.89,290.30 L478.61,289.95 L479.36,289.59 L480.12,289.22 L480.90,288.82 L481.73,288.39 L482.61,287.95 L483.52,287.49 L484.47,287.03 L485.43,286.56 L486.39,286.09 L487.36,285.62 L488.31,285.16 L489.23,284.71 L490.12,284.27 L490.96,283.85 L491.74,283.44 L492.49,283.05 L493.23,282.68 L493.95,282.31 L494.67,281.94 L495.38,281.58 L496.09,281.21 L496.79,280.84 L497.49,280.46 L498.18,280.06 L498.88,279.64 L499.57,279.21 L500.23,278.77 L500.90,278.33 L501.59,277.88 L502.29,277.42 L503.00,276.94 L503.70,276.45 L504.39,275.94 L505.05,275.40 L505.69,274.84 L506.28,274.24 L506.83,273.60 L507.31,272.92 L507.74,272.23 L508.09,271.51 L508.39,270.77 L508.63,270.02 L508.82,269.27 L508.96,268.52 L509.06,267.78 L509.12,267.05 L509.16,266.34 L509.16,265.66 L509.14,265.00 L509.09,264.37 L509.06,263.74 L508.99,263.10 L508.87,262.48 L508.71,261.87 L508.52,261.28 L508.29,260.71 L508.04,260.16 L507.77,259.63 L507.47,259.12 L507.17,258.63 L506.84,258.15 L506.50,257.67 L506.09,257.19 L505.65,256.74 L505.19,256.31 L504.72,255.92 L504.24,255.56 L503.76,255.22 L503.27,254.89 L502.80,254.58 L502.32,254.27 L501.86,253.97 L501.41,253.66 L500.94,253.35 L500.43,253.03 L499.89,252.70 L499.35,252.38 L498.80,252.07 L498.25,251.75 L497.70,251.44 L497.14,251.12 L496.58,250.80 L496.01,250.48 L495.44,250.15 L494.86,249.81 L494.28,249.45 L493.64,249.11 L492.99,248.76 L492.33,248.41 L491.66,248.05 L490.99,247.69 L490.31,247.31 L489.63,246.93 L488.95,246.54 L488.26,246.14 L487.58,245.73 L486.89,245.31 L486.21,244.88 L485.50,244.42 L484.77,243.93 L484.01,243.41 L483.24,242.87 L482.47,242.32 L481.70,241.77 L480.94,241.22 L480.20,240.67 L479.49,240.14 L478.81,239.63 L478.18,239.15 L477.60,238.71 L477.09,238.27 L476.61,237.87 L476.17,237.49 L475.77,237.12 L475.39,236.78 L475.04,236.45 L474.71,236.13 L474.40,235.81 L474.11,235.50 L473.82,235.18 L473.54,234.86 L473.26,234.52 L472.99,234.18 L472.74,233.84 L472.50,233.52 L472.28,233.20 L472.07,232.88 L471.88,232.56 L471.69,232.24 L471.52,231.92 L471.36,231.59 L471.21,231.24 L471.06,230.89 L470.92,230.52 L470.79,230.12 L470.66,229.71 L470.54,229.30 L470.43,228.88 L470.34,228.46 L470.25,228.05 L470.18,227.62 L470.12,227.20 L470.09,226.78 L470.07,226.36 L470.07,225.94 L470.10,225.52 L470.17,225.07 L470.26,224.58 L470.37,224.08 L470.49,223.57 L470.64,223.06 L470.80,222.55 L470.98,222.05 L471.17,221.56 L471.37,221.10 L471.59,220.68 L471.81,220.29 L472.03,219.95 L472.25,219.64 L472.49,219.36 L472.75,219.10 L473.04,218.83 L473.35,218.58 L473.69,218.32 L474.05,218.06 L474.43,217.79 L474.84,217.51 L475.28,217.23 L475.73,216.93 L476.18,216.61 L476.62,216.31 L477.05,216.03 L477.48,215.75 L477.92,215.47 L478.36,215.19 L478.82,214.92 L479.30,214.64 L479.80,214.35 L480.32,214.06 L480.87,213.76 L481.45,213.45 L482.06,213.13 L482.70,212.79 L483.39,212.44 L484.12,212.07 L484.88,211.70 L485.67,211.31 L486.47,210.93 L487.30,210.53 L488.12,210.13 L488.95,209.73 L489.77,209.33 L490.58,208.94 L491.36,208.54 L492.12,208.17 L492.87,207.80 L493.61,207.44 L494.34,207.08 L495.07,206.72 L495.80,206.36 L496.53,205.99 L497.26,205.62 L498.00,205.24 L498.75,204.86 L499.50,204.47 L500.27,204.07 L501.10,203.66 L501.99,203.22 L502.92,202.75 L503.87,202.26 L504.83,201.77 L505.77,201.28 L506.68,200.81 L507.54,200.37 L508.33,199.97 L509.04,199.62 L509.65,199.33 L508.80,200.00Z" fill="#aedbe6" fill-opacity="0.88" stroke="#8cc7d9" stroke-width="0.7" stroke-linejoin="round"/><g stroke="#ebba80" stroke-width="3.4" stroke-linecap="butt"><line x1="470.4" y1="223.6" x2="489.0" y2="225.6"/><line x1="472.0" y1="231.2" x2="499.7" y2="232.2"/><line x1="472.7" y1="237.3" x2="505.5" y2="237.5"/><line x1="482.0" y1="243.1" x2="506.0" y2="243.1"/></g><g stroke="#ebba80" stroke-width="3.4" stroke-linecap="butt"><line x1="472.7" y1="294.9" x2="498.5" y2="292.0"/><line x1="473.3" y1="300.2" x2="505.5" y2="300.8"/></g><path d="M503.24,176.26 L502.74,176.23 L502.12,176.19 L501.35,176.13 L500.45,176.08 L499.46,176.04 L498.38,176.02 L497.23,176.03 L496.03,176.09 L494.80,176.21 L493.53,176.41 L492.25,176.71 L490.99,177.11 L489.79,177.67 L488.58,178.31 L487.36,179.03 L486.14,179.81 L484.92,180.63 L483.71,181.48 L482.52,182.36 L481.36,183.24 L480.25,184.11 L479.20,184.95 L478.22,185.76 L477.31,186.52 L476.50,187.28 L475.73,188.03 L475.00,188.77 L474.32,189.51 L473.67,190.24 L473.07,190.97 L472.50,191.70 L471.97,192.44 L471.47,193.18 L471.01,193.94 L470.57,194.70 L470.17,195.48 L469.79,196.29 L469.46,197.12 L469.16,197.96 L468.91,198.80 L468.69,199.64 L468.51,200.47 L468.37,201.30 L468.25,202.10 L468.17,202.90 L468.12,203.67 L468.10,204.41 L468.10,205.14 L468.08,205.85 L468.10,206.55 L468.15,207.23 L468.24,207.90 L468.36,208.55 L468.51,209.18 L468.69,209.80 L468.89,210.40 L469.11,210.99 L469.35,211.58 L469.60,212.15 L469.86,212.71 L470.09,213.24 L470.31,213.76 L470.55,214.28 L470.80,214.81 L471.08,215.35 L471.41,215.90 L471.80,216.47 L472.24,217.05 L472.75,217.64 L473.33,218.25 L473.99,218.89 L474.75,219.56 L475.62,220.28 L476.60,221.03 L477.67,221.81 L478.80,222.61 L480.00,223.43 L481.25,224.26 L482.52,225.09 L483.81,225.92 L485.09,226.74 L486.36,227.54 L487.59,228.32 L488.78,229.07 L490.02,229.76 L491.30,230.45 L492.61,231.14 L493.93,231.82 L495.24,232.48 L496.53,233.13 L497.78,233.77 L498.98,234.37 L500.10,234.95 L501.14,235.50 L502.07,236.01 L502.90,236.49 L503.68,236.91 L504.40,237.29 L505.04,237.61 L505.58,237.87 L506.04,238.09 L506.39,238.28 L506.65,238.42 L506.84,238.53 L506.97,238.63 L507.09,238.75 L507.21,238.93 L507.31,239.21 L507.32,239.58 L507.28,240.02 L507.20,240.52 L507.07,241.07 L506.89,241.66 L506.66,242.27 L506.39,242.89 L506.07,243.51 L505.71,244.13 L505.32,244.72 L504.89,245.29 L504.43,245.83 L503.91,246.34 L503.32,246.86 L502.68,247.38 L501.98,247.90 L501.22,248.42 L500.42,248.94 L499.58,249.46 L498.70,249.97 L497.79,250.48 L496.84,250.98 L495.88,251.49 L494.91,251.97 L493.94,252.47 L492.89,252.96 L491.77,253.45 L490.58,253.94 L489.36,254.42 L488.11,254.91 L486.86,255.39 L485.61,255.87 L484.38,256.36 L483.18,256.85 L482.03,257.34 L480.96,257.84 L479.99,258.34 L479.06,258.83 L478.15,259.31 L477.26,259.79 L476.39,260.27 L475.56,260.75 L474.74,261.25 L473.96,261.75 L473.21,262.27 L472.50,262.80 L471.82,263.37 L471.18,263.95 L470.61,264.58 L470.09,265.22 L469.62,265.87 L469.20,266.53 L468.83,267.20 L468.50,267.87 L468.22,268.54 L467.99,269.21 L467.80,269.87 L467.66,270.53 L467.56,271.17 L467.51,271.80 L467.43,272.38 L467.37,272.96 L467.35,273.56 L467.36,274.17 L467.42,274.80 L467.54,275.44 L467.73,276.10 L468.00,276.75 L468.34,277.39 L468.76,278.02 L469.26,278.64 L469.85,279.25 L470.50,279.87 L471.21,280.46 L471.98,281.02 L472.81,281.58 L473.69,282.12 L474.62,282.66 L475.59,283.20 L476.61,283.75 L477.66,284.31 L478.74,284.88 L479.85,285.46 L481.01,286.08 L482.31,286.68 L483.74,287.32 L485.28,287.97 L486.87,288.65 L488.51,289.33 L490.15,290.01 L491.77,290.70 L493.34,291.37 L494.82,292.03 L496.18,292.66 L497.38,293.25 L498.41,293.81 L499.34,294.29 L500.17,294.72 L500.88,295.10 L501.48,295.45 L501.99,295.76 L502.43,296.06 L502.82,296.36 L503.18,296.68 L503.53,297.06 L503.89,297.50 L504.26,298.04 L504.64,298.64 L505.03,299.34 L505.40,300.19 L505.75,301.18 L506.08,302.26 L506.39,303.40 L506.67,304.56 L506.94,305.71 L507.18,306.80 L507.41,307.83 L507.62,308.74 L507.82,309.52 L508.01,310.11 L509.19,309.89 L509.15,309.29 L509.10,308.51 L509.04,307.58 L508.96,306.54 L508.86,305.40 L508.74,304.20 L508.60,302.98 L508.42,301.75 L508.22,300.55 L507.98,299.40 L507.69,298.32 L507.36,297.36 L507.00,296.54 L506.65,295.82 L506.28,295.15 L505.88,294.51 L505.43,293.90 L504.93,293.33 L504.38,292.78 L503.77,292.25 L503.10,291.72 L502.36,291.18 L501.54,290.61 L500.59,289.99 L499.43,289.34 L498.11,288.67 L496.68,287.99 L495.15,287.29 L493.55,286.58 L491.91,285.87 L490.27,285.17 L488.65,284.47 L487.08,283.79 L485.59,283.14 L484.22,282.52 L482.99,281.92 L481.80,281.40 L480.63,280.90 L479.51,280.42 L478.43,279.97 L477.41,279.53 L476.44,279.10 L475.54,278.69 L474.71,278.28 L473.95,277.89 L473.26,277.50 L472.67,277.12 L472.15,276.75 L471.74,276.36 L471.40,275.99 L471.13,275.63 L470.92,275.29 L470.76,274.96 L470.63,274.62 L470.54,274.27 L470.48,273.90 L470.45,273.51 L470.44,273.10 L470.45,272.66 L470.49,272.20 L470.61,271.77 L470.76,271.34 L470.94,270.90 L471.15,270.46 L471.40,270.01 L471.67,269.57 L471.98,269.13 L472.33,268.69 L472.70,268.26 L473.11,267.84 L473.55,267.44 L474.02,267.05 L474.52,266.65 L475.06,266.26 L475.66,265.87 L476.30,265.47 L477.00,265.08 L477.74,264.68 L478.53,264.28 L479.36,263.88 L480.23,263.46 L481.14,263.04 L482.08,262.60 L483.04,262.16 L484.01,261.70 L485.05,261.23 L486.17,260.76 L487.36,260.27 L488.58,259.78 L489.84,259.28 L491.10,258.77 L492.36,258.25 L493.61,257.72 L494.82,257.17 L495.99,256.60 L497.09,256.03 L498.09,255.42 L499.07,254.82 L500.02,254.21 L500.96,253.59 L501.87,252.95 L502.75,252.31 L503.60,251.66 L504.41,250.99 L505.18,250.31 L505.89,249.61 L506.56,248.90 L507.17,248.17 L507.74,247.42 L508.25,246.64 L508.71,245.84 L509.11,245.03 L509.47,244.21 L509.76,243.40 L510.00,242.59 L510.19,241.79 L510.31,241.00 L510.38,240.24 L510.37,239.50 L510.29,238.79 L510.20,238.12 L510.03,237.47 L509.76,236.86 L509.40,236.30 L508.99,235.81 L508.54,235.39 L508.06,235.00 L507.56,234.62 L507.02,234.25 L506.44,233.85 L505.82,233.42 L505.10,232.91 L504.24,232.36 L503.26,231.76 L502.19,231.14 L501.05,230.49 L499.86,229.83 L498.62,229.15 L497.36,228.46 L496.09,227.76 L494.82,227.05 L493.58,226.34 L492.38,225.64 L491.22,224.93 L490.02,224.25 L488.76,223.54 L487.47,222.80 L486.17,222.05 L484.87,221.29 L483.59,220.53 L482.34,219.78 L481.15,219.04 L480.03,218.33 L478.99,217.66 L478.06,217.02 L477.25,216.44 L476.55,215.91 L475.96,215.42 L475.46,214.98 L475.03,214.57 L474.66,214.19 L474.35,213.82 L474.07,213.46 L473.80,213.08 L473.55,212.69 L473.29,212.26 L473.02,211.79 L472.74,211.29 L472.48,210.79 L472.24,210.29 L472.03,209.81 L471.83,209.32 L471.65,208.84 L471.50,208.36 L471.37,207.87 L471.26,207.38 L471.18,206.87 L471.12,206.36 L471.10,205.82 L471.10,205.26 L471.19,204.66 L471.30,204.04 L471.44,203.39 L471.60,202.73 L471.78,202.05 L472.00,201.38 L472.24,200.70 L472.50,200.03 L472.80,199.38 L473.12,198.74 L473.46,198.12 L473.83,197.52 L474.23,196.93 L474.65,196.34 L475.10,195.76 L475.57,195.20 L476.07,194.63 L476.60,194.07 L477.18,193.50 L477.79,192.92 L478.44,192.34 L479.14,191.73 L479.88,191.12 L480.69,190.48 L481.54,189.76 L482.48,188.99 L483.48,188.18 L484.54,187.35 L485.63,186.52 L486.74,185.70 L487.87,184.91 L488.99,184.16 L490.08,183.46 L491.13,182.84 L492.12,182.31 L493.01,181.89 L493.84,181.51 L494.72,181.18 L495.66,180.91 L496.65,180.69 L497.65,180.50 L498.65,180.36 L499.62,180.24 L500.55,180.14 L501.43,180.06 L502.24,179.97 L502.97,179.87 L503.56,179.74Z" fill="#aedbe6" fill-opacity="0.88" stroke="#8cc7d9" stroke-width="0.7" stroke-linejoin="round"/><g stroke="#ebba80" stroke-width="3.4" stroke-linecap="butt"><line x1="469.5" y1="295.2" x2="498.5" y2="292.0"/><line x1="470.0" y1="300.4" x2="505.5" y2="300.6"/></g><g stroke="#ebba80" stroke-width="3.4" stroke-linecap="butt"><line x1="584.9" y1="187.6" x2="613.0" y2="191.7"/><line x1="576.7" y1="197.5" x2="600.0" y2="197.0"/><line x1="576.7" y1="207.5" x2="585.0" y2="205.8"/></g><path d="M615.50,187.00 L612.92,187.21 L612.38,187.54 L611.73,187.93 L610.99,188.36 L610.18,188.82 L609.32,189.30 L608.42,189.81 L607.52,190.32 L606.61,190.84 L605.73,191.36 L604.88,191.86 L604.09,192.35 L603.32,192.79 L602.57,193.23 L601.83,193.67 L601.11,194.11 L600.39,194.55 L599.68,194.99 L598.98,195.43 L598.28,195.87 L597.58,196.30 L596.87,196.74 L596.16,197.17 L595.45,197.61 L594.71,198.05 L593.94,198.49 L593.15,198.95 L592.35,199.41 L591.54,199.87 L590.72,200.34 L589.92,200.81 L589.12,201.27 L588.34,201.73 L587.59,202.18 L586.87,202.63 L586.19,203.07 L585.55,203.50 L584.95,203.90 L584.38,204.30 L583.84,204.70 L583.31,205.08 L582.81,205.47 L582.33,205.85 L581.85,206.23 L581.39,206.61 L580.94,206.99 L580.50,207.38 L580.07,207.77 L579.66,208.14 L579.26,208.49 L578.86,208.85 L578.44,209.23 L578.02,209.61 L577.61,210.01 L577.19,210.44 L576.78,210.90 L576.38,211.39 L576.00,211.92 L575.65,212.49 L575.33,213.10 L575.05,213.74 L574.80,214.40 L574.58,215.08 L574.38,215.78 L574.21,216.48 L574.06,217.20 L573.93,217.91 L573.82,218.62 L573.74,219.32 L573.67,220.00 L573.63,220.66 L573.60,221.29 L573.57,221.92 L573.57,222.54 L573.59,223.14 L573.64,223.74 L573.71,224.32 L573.80,224.88 L573.90,225.44 L574.02,225.97 L574.14,226.49 L574.28,227.00 L574.42,227.49 L574.57,227.96 L574.73,228.44 L574.89,228.90 L575.07,229.35 L575.26,229.78 L575.46,230.21 L575.68,230.62 L575.91,231.02 L576.15,231.42 L576.40,231.81 L576.67,232.20 L576.95,232.59 L577.24,232.98 L577.54,233.38 L577.85,233.77 L578.17,234.15 L578.50,234.53 L578.85,234.91 L579.21,235.29 L579.59,235.67 L579.99,236.06 L580.42,236.47 L580.88,236.89 L581.37,237.33 L581.90,237.79 L582.46,238.31 L583.07,238.86 L583.72,239.44 L584.41,240.04 L585.13,240.65 L585.86,241.27 L586.61,241.89 L587.37,242.51 L588.12,243.12 L588.86,243.71 L589.59,244.28 L590.29,244.82 L590.99,245.34 L591.68,245.85 L592.37,246.34 L593.06,246.82 L593.74,247.28 L594.41,247.74 L595.08,248.18 L595.73,248.61 L596.38,249.03 L597.01,249.45 L597.62,249.85 L598.22,250.25 L598.85,250.61 L599.48,250.96 L600.09,251.30 L600.69,251.62 L601.27,251.93 L601.84,252.24 L602.40,252.53 L602.94,252.82 L603.46,253.10 L603.97,253.38 L604.46,253.66 L604.96,253.95 L605.49,254.24 L606.03,254.51 L606.55,254.77 L607.04,255.01 L607.51,255.24 L607.96,255.47 L608.37,255.69 L608.75,255.91 L609.11,256.13 L609.43,256.35 L609.72,256.58 L610.00,256.83 L610.31,257.12 L610.61,257.44 L610.90,257.77 L611.18,258.10 L611.43,258.45 L611.67,258.80 L611.89,259.16 L612.08,259.52 L612.25,259.90 L612.40,260.29 L612.51,260.70 L612.61,261.13 L612.63,261.62 L612.63,262.16 L612.61,262.73 L612.57,263.31 L612.50,263.90 L612.40,264.49 L612.28,265.07 L612.12,265.64 L611.94,266.18 L611.72,266.69 L611.47,267.15 L611.19,267.58 L610.84,267.95 L610.43,268.33 L609.95,268.71 L609.40,269.09 L608.81,269.47 L608.18,269.85 L607.51,270.23 L606.81,270.60 L606.09,270.97 L605.37,271.34 L604.64,271.72 L603.93,272.09 L603.27,272.45 L602.63,272.78 L601.98,273.10 L601.31,273.41 L600.64,273.71 L599.94,274.02 L599.23,274.33 L598.50,274.64 L597.75,274.97 L596.97,275.31 L596.16,275.67 L595.34,276.05 L594.50,276.46 L593.62,276.89 L592.70,277.34 L591.76,277.80 L590.79,278.27 L589.82,278.74 L588.85,279.22 L587.89,279.69 L586.96,280.16 L586.05,280.61 L585.19,281.05 L584.38,281.48 L583.63,281.91 L582.91,282.34 L582.20,282.76 L581.51,283.17 L580.84,283.57 L580.20,283.98 L579.58,284.37 L578.99,284.76 L578.42,285.15 L577.89,285.53 L577.38,285.91 L576.93,286.28 L576.54,286.62 L576.19,286.92 L575.85,287.22 L575.51,287.53 L575.19,287.85 L574.88,288.20 L574.58,288.58 L574.32,289.02 L574.10,289.51 L573.96,290.03 L573.89,290.56 L573.90,291.08 L573.91,291.58 L573.95,292.09 L574.04,292.63 L574.16,293.19 L574.33,293.76 L574.55,294.35 L574.82,294.94 L575.15,295.53 L575.54,296.12 L576.00,296.69 L576.52,297.24 L577.12,297.77 L577.80,298.28 L578.55,298.74 L579.35,299.17 L580.19,299.57 L581.06,299.96 L581.95,300.33 L582.84,300.70 L583.73,301.07 L584.59,301.44 L585.41,301.81 L586.17,302.19 L586.89,302.58 L587.66,302.98 L588.46,303.39 L589.26,303.81 L590.06,304.22 L590.83,304.63 L591.58,305.05 L592.29,305.47 L592.95,305.88 L593.55,306.30 L594.07,306.71 L594.52,307.11 L594.90,307.52 L595.26,307.94 L595.55,308.31 L595.76,308.60 L595.90,308.83 L596.01,309.06 L596.11,309.33 L596.20,309.68 L596.28,310.17 L596.36,310.79 L596.44,311.57 L596.52,312.51 L596.60,313.62 L596.68,314.96 L596.72,316.61 L596.75,318.50 L596.76,320.56 L596.75,322.73 L596.73,324.94 L596.71,327.12 L596.68,329.23 L596.65,331.17 L596.62,332.91 L596.61,334.37 L596.60,335.49 L600.40,335.51 L600.41,334.41 L600.42,332.96 L600.45,331.23 L600.48,329.28 L600.51,327.17 L600.53,324.97 L600.55,322.75 L600.56,320.56 L600.55,318.47 L600.52,316.53 L600.47,314.81 L600.40,313.38 L600.32,312.23 L600.26,311.26 L600.19,310.41 L600.11,309.65 L600.01,308.96 L599.87,308.30 L599.67,307.67 L599.42,307.06 L599.10,306.50 L598.75,305.97 L598.36,305.45 L597.90,304.88 L597.31,304.25 L596.64,303.64 L595.92,303.08 L595.16,302.55 L594.38,302.05 L593.57,301.58 L592.75,301.12 L591.92,300.68 L591.10,300.25 L590.29,299.83 L589.50,299.43 L588.71,299.02 L587.84,298.63 L586.92,298.25 L585.99,297.91 L585.05,297.58 L584.12,297.27 L583.22,296.97 L582.35,296.67 L581.52,296.38 L580.77,296.08 L580.10,295.79 L579.53,295.51 L579.08,295.23 L578.70,294.92 L578.36,294.59 L578.07,294.23 L577.81,293.87 L577.59,293.49 L577.40,293.12 L577.24,292.74 L577.12,292.37 L577.02,292.01 L576.96,291.68 L576.92,291.37 L576.90,291.12 L576.95,290.96 L577.01,290.88 L577.07,290.84 L577.13,290.80 L577.23,290.75 L577.36,290.67 L577.55,290.55 L577.79,290.40 L578.09,290.23 L578.44,290.02 L578.85,289.78 L579.27,289.52 L579.70,289.25 L580.16,288.99 L580.65,288.71 L581.19,288.41 L581.77,288.11 L582.38,287.80 L583.02,287.48 L583.69,287.14 L584.39,286.80 L585.11,286.45 L585.86,286.09 L586.62,285.72 L587.40,285.32 L588.23,284.89 L589.11,284.45 L590.02,283.99 L590.97,283.53 L591.93,283.06 L592.89,282.59 L593.86,282.12 L594.81,281.66 L595.73,281.21 L596.62,280.77 L597.46,280.35 L598.24,279.94 L598.99,279.55 L599.73,279.18 L600.45,278.81 L601.17,278.44 L601.88,278.08 L602.59,277.71 L603.29,277.34 L603.99,276.96 L604.68,276.56 L605.38,276.14 L606.07,275.71 L606.73,275.27 L607.40,274.83 L608.09,274.38 L608.79,273.92 L609.50,273.44 L610.20,272.95 L610.89,272.44 L611.55,271.90 L612.19,271.34 L612.78,270.74 L613.33,270.10 L613.81,269.42 L614.24,268.73 L614.59,268.01 L614.89,267.27 L615.13,266.52 L615.32,265.77 L615.46,265.02 L615.56,264.28 L615.62,263.55 L615.66,262.84 L615.66,262.16 L615.64,261.50 L615.59,260.87 L615.56,260.24 L615.49,259.60 L615.37,258.98 L615.21,258.37 L615.02,257.78 L614.79,257.21 L614.54,256.66 L614.27,256.13 L613.97,255.62 L613.67,255.13 L613.34,254.65 L613.00,254.17 L612.59,253.69 L612.15,253.24 L611.69,252.81 L611.22,252.42 L610.74,252.06 L610.26,251.72 L609.77,251.39 L609.30,251.08 L608.82,250.77 L608.36,250.47 L607.91,250.16 L607.44,249.85 L606.93,249.53 L606.39,249.20 L605.85,248.88 L605.30,248.57 L604.75,248.25 L604.20,247.94 L603.64,247.62 L603.08,247.30 L602.51,246.98 L601.94,246.65 L601.36,246.31 L600.78,245.95 L600.14,245.61 L599.49,245.26 L598.83,244.91 L598.16,244.55 L597.49,244.19 L596.81,243.81 L596.13,243.43 L595.45,243.04 L594.76,242.64 L594.08,242.23 L593.39,241.81 L592.71,241.38 L592.00,240.92 L591.27,240.43 L590.51,239.91 L589.74,239.37 L588.97,238.82 L588.20,238.27 L587.44,237.72 L586.70,237.17 L585.99,236.64 L585.31,236.13 L584.68,235.65 L584.10,235.21 L583.59,234.77 L583.11,234.37 L582.67,233.99 L582.27,233.62 L581.89,233.28 L581.54,232.95 L581.21,232.63 L580.90,232.31 L580.61,232.00 L580.32,231.68 L580.04,231.36 L579.76,231.02 L579.49,230.67 L579.23,230.34 L578.99,230.02 L578.77,229.70 L578.56,229.39 L578.37,229.08 L578.19,228.77 L578.02,228.45 L577.86,228.13 L577.71,227.78 L577.57,227.42 L577.43,227.04 L577.30,226.62 L577.17,226.18 L577.05,225.74 L576.94,225.29 L576.84,224.84 L576.75,224.38 L576.68,223.91 L576.63,223.44 L576.59,222.97 L576.57,222.48 L576.57,222.00 L576.60,221.51 L576.68,220.98 L576.78,220.41 L576.90,219.83 L577.04,219.22 L577.19,218.61 L577.36,218.00 L577.55,217.40 L577.76,216.82 L577.97,216.28 L578.20,215.76 L578.44,215.30 L578.67,214.90 L578.91,214.55 L579.16,214.24 L579.43,213.94 L579.73,213.65 L580.04,213.38 L580.38,213.10 L580.75,212.82 L581.14,212.53 L581.56,212.23 L582.00,211.92 L582.47,211.58 L582.93,211.23 L583.38,210.89 L583.81,210.57 L584.24,210.25 L584.68,209.94 L585.13,209.63 L585.59,209.32 L586.07,209.01 L586.56,208.69 L587.08,208.36 L587.63,208.03 L588.21,207.68 L588.81,207.33 L589.46,206.96 L590.14,206.58 L590.87,206.19 L591.64,205.78 L592.43,205.37 L593.24,204.95 L594.06,204.52 L594.90,204.09 L595.73,203.67 L596.55,203.24 L597.36,202.81 L598.15,202.39 L598.92,201.98 L599.68,201.56 L600.42,201.15 L601.15,200.75 L601.88,200.35 L602.59,199.95 L603.31,199.55 L604.02,199.16 L604.74,198.78 L605.45,198.40 L606.18,198.02 L606.91,197.65 L607.71,197.30 L608.56,196.93 L609.47,196.54 L610.40,196.15 L611.34,195.76 L612.27,195.37 L613.17,195.00 L614.03,194.66 L614.82,194.35 L615.54,194.07 L616.15,193.84 L615.50,195.50Z" fill="#aedbe6" fill-opacity="0.88" stroke="#8cc7d9" stroke-width="0.7" stroke-linejoin="round"/><g stroke="#ebba80" stroke-width="3.4" stroke-linecap="butt"><line x1="593.0" y1="220.3" x2="612.4" y2="222.0"/><line x1="608.3" y1="227.9" x2="628.8" y2="227.9"/><line x1="614.2" y1="232.6" x2="637.6" y2="232.6"/><line x1="615.3" y1="239.6" x2="635.9" y2="239.6"/><line x1="591.9" y1="262.5" x2="610.7" y2="262.5"/><line x1="611.8" y1="269.5" x2="627.6" y2="269.5"/><line x1="576.7" y1="291.7" x2="602.4" y2="289.3"/><line x1="577.5" y1="297.5" x2="612.4" y2="297.5"/></g><g stroke="#3f2818" stroke-width="4.4" stroke-linecap="round"><line x1="555.0" y1="220.3" x2="574.3" y2="221.4"/><line x1="551.4" y1="227.9" x2="575.5" y2="227.9"/><line x1="549.7" y1="233.2" x2="576.7" y2="233.2"/><line x1="565.0" y1="239.6" x2="580.2" y2="239.6"/><line x1="557.3" y1="270.3" x2="574.9" y2="270.3"/></g><g stroke="#d69c62" stroke-width="2.4" stroke-linecap="round"><line x1="555.0" y1="220.3" x2="574.3" y2="221.4"/><line x1="551.4" y1="227.9" x2="575.5" y2="227.9"/><line x1="549.7" y1="233.2" x2="576.7" y2="233.2"/><line x1="565.0" y1="239.6" x2="580.2" y2="239.6"/><line x1="557.3" y1="270.3" x2="574.9" y2="270.3"/></g><path d="M605.28,174.49 L604.84,174.67 L604.29,174.88 L603.62,175.14 L602.86,175.43 L602.01,175.75 L601.12,176.10 L600.18,176.48 L599.22,176.88 L598.25,177.29 L597.29,177.72 L596.36,178.17 L595.47,178.63 L594.64,179.12 L593.82,179.62 L593.00,180.13 L592.19,180.66 L591.39,181.20 L590.60,181.75 L589.82,182.31 L589.05,182.87 L588.30,183.44 L587.56,184.01 L586.85,184.57 L586.15,185.14 L585.49,185.71 L584.84,186.29 L584.20,186.88 L583.57,187.47 L582.96,188.06 L582.36,188.66 L581.77,189.27 L581.20,189.88 L580.65,190.50 L580.11,191.12 L579.59,191.75 L579.10,192.38 L578.62,193.03 L578.17,193.69 L577.73,194.35 L577.32,195.02 L576.92,195.69 L576.55,196.35 L576.20,197.02 L575.87,197.67 L575.56,198.32 L575.27,198.96 L575.01,199.59 L574.77,200.20 L574.55,200.80 L574.34,201.38 L574.15,201.97 L573.99,202.54 L573.85,203.11 L573.73,203.68 L573.63,204.24 L573.56,204.80 L573.51,205.35 L573.48,205.91 L573.48,206.45 L573.50,207.00 L573.50,207.55 L573.53,208.09 L573.58,208.64 L573.66,209.18 L573.76,209.72 L573.88,210.26 L574.03,210.79 L574.20,211.32 L574.39,211.84 L574.62,212.35 L574.86,212.85 L575.13,213.32 L575.36,213.76 L575.58,214.16 L575.81,214.55 L576.06,214.94 L576.35,215.32 L576.68,215.71 L577.05,216.09 L577.46,216.49 L577.94,216.91 L578.48,217.37 L579.11,217.87 L579.85,218.43 L580.71,219.08 L581.69,219.79 L582.78,220.55 L583.94,221.36 L585.18,222.19 L586.46,223.04 L587.78,223.91 L589.10,224.79 L590.43,225.65 L591.73,226.51 L592.98,227.33 L594.19,228.13 L595.43,228.86 L596.72,229.61 L598.02,230.35 L599.33,231.09 L600.63,231.82 L601.91,232.53 L603.15,233.23 L604.33,233.91 L605.44,234.57 L606.46,235.19 L607.37,235.77 L608.17,236.32 L608.93,236.81 L609.62,237.25 L610.23,237.66 L610.76,238.01 L611.22,238.34 L611.59,238.62 L611.90,238.88 L612.15,239.12 L612.36,239.35 L612.53,239.60 L612.69,239.88 L612.81,240.20 L612.82,240.58 L612.78,240.97 L612.71,241.40 L612.58,241.86 L612.41,242.33 L612.20,242.82 L611.93,243.32 L611.63,243.82 L611.28,244.31 L610.90,244.80 L610.48,245.28 L610.02,245.73 L609.50,246.14 L608.93,246.54 L608.28,246.95 L607.58,247.35 L606.82,247.76 L606.02,248.17 L605.16,248.58 L604.26,249.00 L603.33,249.43 L602.36,249.87 L601.36,250.32 L600.35,250.78 L599.35,251.28 L598.27,251.79 L597.13,252.32 L595.93,252.86 L594.70,253.40 L593.44,253.95 L592.18,254.50 L590.93,255.05 L589.71,255.59 L588.52,256.13 L587.38,256.66 L586.33,257.18 L585.38,257.69 L584.45,258.19 L583.54,258.67 L582.65,259.16 L581.78,259.64 L580.93,260.12 L580.11,260.61 L579.31,261.12 L578.55,261.64 L577.83,262.20 L577.14,262.78 L576.51,263.41 L575.97,264.09 L575.50,264.78 L575.10,265.49 L574.78,266.20 L574.52,266.90 L574.32,267.60 L574.17,268.29 L574.07,268.96 L574.00,269.61 L573.98,270.24 L573.98,270.84 L574.00,271.42 L573.96,271.97 L573.94,272.53 L573.93,273.11 L573.95,273.71 L574.02,274.32 L574.13,274.96 L574.31,275.60 L574.56,276.25 L574.88,276.90 L575.29,277.53 L575.78,278.15 L576.35,278.75 L576.97,279.35 L577.65,279.93 L578.38,280.48 L579.17,281.02 L580.01,281.54 L580.90,282.06 L581.83,282.58 L582.81,283.09 L583.82,283.61 L584.86,284.13 L585.94,284.66 L587.07,285.21 L588.34,285.73 L589.75,286.25 L591.25,286.78 L592.80,287.32 L594.39,287.85 L595.99,288.39 L597.56,288.92 L599.07,289.45 L600.50,289.97 L601.81,290.48 L602.96,290.97 L603.95,291.44 L604.84,291.85 L605.63,292.23 L606.32,292.57 L606.90,292.89 L607.41,293.19 L607.85,293.49 L608.25,293.79 L608.62,294.13 L608.99,294.52 L609.36,294.99 L609.75,295.53 L610.14,296.14 L610.53,296.84 L610.90,297.69 L611.25,298.68 L611.58,299.76 L611.89,300.90 L612.17,302.06 L612.44,303.21 L612.68,304.30 L612.91,305.33 L613.12,306.24 L613.32,307.02 L613.51,307.61 L614.69,307.39 L614.65,306.79 L614.60,306.01 L614.54,305.08 L614.46,304.04 L614.36,302.90 L614.24,301.70 L614.10,300.48 L613.92,299.25 L613.72,298.05 L613.48,296.90 L613.19,295.82 L612.86,294.86 L612.50,294.04 L612.16,293.30 L611.80,292.61 L611.40,291.95 L610.95,291.32 L610.45,290.71 L609.89,290.14 L609.27,289.58 L608.59,289.04 L607.84,288.50 L607.01,287.95 L606.05,287.36 L604.90,286.78 L603.59,286.20 L602.17,285.63 L600.67,285.06 L599.11,284.50 L597.51,283.94 L595.92,283.39 L594.35,282.84 L592.83,282.30 L591.40,281.78 L590.10,281.28 L588.93,280.79 L587.80,280.36 L586.69,279.94 L585.62,279.54 L584.60,279.15 L583.63,278.76 L582.72,278.39 L581.87,278.02 L581.09,277.66 L580.37,277.30 L579.72,276.94 L579.15,276.59 L578.65,276.25 L578.27,275.89 L577.96,275.54 L577.71,275.20 L577.51,274.86 L577.35,274.52 L577.23,274.17 L577.14,273.80 L577.07,273.40 L577.03,272.98 L577.00,272.54 L576.99,272.06 L577.00,271.58 L577.09,271.10 L577.20,270.63 L577.33,270.17 L577.48,269.71 L577.66,269.27 L577.86,268.84 L578.08,268.42 L578.34,268.02 L578.62,267.64 L578.94,267.28 L579.29,266.93 L579.69,266.59 L580.12,266.24 L580.61,265.88 L581.18,265.51 L581.81,265.14 L582.50,264.76 L583.25,264.38 L584.05,263.99 L584.90,263.58 L585.79,263.17 L586.72,262.74 L587.69,262.29 L588.67,261.82 L589.65,261.32 L590.71,260.81 L591.84,260.28 L593.03,259.73 L594.26,259.18 L595.51,258.61 L596.77,258.04 L598.02,257.48 L599.25,256.91 L600.44,256.34 L601.58,255.77 L602.65,255.22 L603.61,254.65 L604.55,254.10 L605.48,253.55 L606.40,253.00 L607.29,252.45 L608.16,251.90 L609.00,251.33 L609.80,250.76 L610.57,250.17 L611.29,249.56 L611.96,248.93 L612.58,248.27 L613.15,247.61 L613.67,246.94 L614.14,246.26 L614.55,245.55 L614.92,244.84 L615.23,244.12 L615.48,243.39 L615.68,242.66 L615.81,241.93 L615.88,241.21 L615.87,240.49 L615.79,239.80 L615.72,239.12 L615.58,238.46 L615.37,237.83 L615.08,237.21 L614.74,236.62 L614.33,236.06 L613.88,235.52 L613.38,234.99 L612.83,234.45 L612.22,233.89 L611.56,233.31 L610.83,232.68 L609.94,232.03 L608.95,231.34 L607.88,230.64 L606.74,229.92 L605.54,229.18 L604.30,228.43 L603.04,227.67 L601.76,226.91 L600.48,226.14 L599.22,225.38 L598.00,224.62 L596.81,223.87 L595.57,223.15 L594.27,222.39 L592.92,221.61 L591.56,220.82 L590.20,220.02 L588.85,219.23 L587.54,218.45 L586.28,217.70 L585.09,216.99 L583.99,216.32 L583.01,215.71 L582.15,215.17 L581.42,214.68 L580.79,214.26 L580.26,213.91 L579.83,213.60 L579.48,213.35 L579.19,213.13 L578.96,212.93 L578.75,212.75 L578.55,212.54 L578.35,212.30 L578.12,212.01 L577.87,211.68 L577.66,211.32 L577.47,210.97 L577.29,210.61 L577.14,210.23 L577.00,209.85 L576.87,209.45 L576.77,209.05 L576.68,208.65 L576.61,208.24 L576.55,207.83 L576.52,207.41 L576.50,207.00 L576.54,206.59 L576.60,206.18 L576.68,205.76 L576.78,205.35 L576.89,204.93 L577.02,204.51 L577.17,204.08 L577.35,203.64 L577.53,203.20 L577.74,202.74 L577.97,202.28 L578.23,201.80 L578.51,201.31 L578.82,200.81 L579.15,200.29 L579.50,199.77 L579.87,199.24 L580.26,198.71 L580.67,198.18 L581.09,197.65 L581.53,197.13 L581.97,196.61 L582.43,196.11 L582.90,195.62 L583.38,195.13 L583.89,194.65 L584.41,194.16 L584.95,193.67 L585.51,193.19 L586.08,192.71 L586.67,192.23 L587.28,191.75 L587.90,191.28 L588.54,190.80 L589.19,190.33 L589.85,189.86 L590.51,189.38 L591.20,188.89 L591.90,188.39 L592.62,187.90 L593.35,187.42 L594.09,186.94 L594.83,186.47 L595.58,186.01 L596.33,185.57 L597.08,185.14 L597.82,184.74 L598.53,184.37 L599.25,183.99 L600.04,183.62 L600.87,183.24 L601.74,182.86 L602.63,182.50 L603.51,182.15 L604.37,181.81 L605.18,181.50 L605.94,181.21 L606.63,180.94 L607.24,180.71 L607.72,180.51Z" fill="#cbceec" fill-opacity="0.88" stroke="#adb0da" stroke-width="0.7" stroke-linejoin="round"/><path d="M473.80,242.90 L476.06,247.19 L480.84,248.01 L477.46,251.49 L478.15,256.29 L473.80,254.15 L469.45,256.29 L470.14,251.49 L466.76,248.01 L471.54,247.19Z" fill="#64c046" stroke="#3e6e38" stroke-width="1.1" stroke-linejoin="round"/><path d="M501.30,284.00 L503.56,288.29 L508.34,289.11 L504.96,292.59 L505.65,297.39 L501.30,295.25 L496.95,297.39 L497.64,292.59 L494.26,289.11 L499.04,288.29Z" fill="#64c046" stroke="#3e6e38" stroke-width="1.1" stroke-linejoin="round"/><path d="M579.60,240.20 L581.86,244.49 L586.64,245.31 L583.26,248.79 L583.95,253.59 L579.60,251.45 L575.25,253.59 L575.94,248.79 L572.56,245.31 L577.34,244.49Z" fill="#64c046" stroke="#3e6e38" stroke-width="1.1" stroke-linejoin="round"/><path d="M607.70,281.40 L609.96,285.69 L614.74,286.51 L611.36,289.99 L612.05,294.79 L607.70,292.65 L603.35,294.79 L604.04,289.99 L600.66,286.51 L605.44,285.69Z" fill="#64c046" stroke="#3e6e38" stroke-width="1.1" stroke-linejoin="round"/><rect x="28.1" y="325.1" width="632.3" height="18.8" fill="url(#bar)" fill-opacity="0.55"/><g stroke="#ebba80" stroke-width="3.4" stroke-linecap="butt"><line x1="454.1" y1="60.5" x2="476.9" y2="46.4"/><line x1="455.0" y1="70.0" x2="473.0" y2="56.0"/><line x1="462.0" y1="75.6" x2="470.0" y2="69.5"/><line x1="466.7" y1="92.7" x2="481.0" y2="83.0"/><line x1="472.6" y1="97.7" x2="495.6" y2="80.5"/><line x1="478.4" y1="100.0" x2="502.7" y2="81.0"/><line x1="487.4" y1="101.6" x2="505.8" y2="84.8"/><line x1="506.5" y1="113.8" x2="523.6" y2="99.4"/><line x1="508.0" y1="122.0" x2="523.6" y2="109.7"/><line x1="515.3" y1="145.0" x2="531.0" y2="127.4"/><line x1="522.8" y1="146.5" x2="542.7" y2="128.7"/></g><path d="M460.24,35.86 L459.84,36.10 L459.37,36.41 L458.82,36.79 L458.20,37.25 L457.54,37.76 L456.84,38.33 L456.11,38.95 L455.38,39.61 L454.65,40.32 L453.93,41.07 L453.24,41.86 L452.59,42.67 L452.15,43.57 L451.73,44.48 L451.32,45.42 L450.93,46.39 L450.56,47.38 L450.20,48.38 L449.87,49.40 L449.55,50.42 L449.26,51.45 L449.00,52.47 L448.76,53.48 L448.56,54.48 L448.40,55.48 L448.27,56.49 L448.16,57.50 L448.08,58.52 L448.02,59.54 L447.99,60.55 L447.98,61.54 L447.99,62.53 L448.03,63.49 L448.10,64.42 L448.19,65.33 L448.31,66.21 L448.44,67.06 L448.59,67.89 L448.78,68.69 L448.99,69.48 L449.23,70.23 L449.49,70.97 L449.78,71.68 L450.09,72.37 L450.41,73.04 L450.76,73.68 L451.13,74.31 L451.51,74.93 L451.93,75.55 L452.38,76.15 L452.85,76.72 L453.35,77.26 L453.85,77.77 L454.37,78.26 L454.89,78.72 L455.41,79.16 L455.93,79.58 L456.43,79.99 L456.93,80.38 L457.38,80.75 L457.77,81.10 L458.12,81.45 L458.48,81.83 L458.86,82.24 L459.27,82.66 L459.74,83.10 L460.27,83.54 L460.88,83.95 L461.57,84.33 L462.35,84.65 L463.20,84.90 L464.14,85.08 L465.15,85.20 L466.22,85.25 L467.35,85.26 L468.53,85.22 L469.74,85.15 L471.00,85.05 L472.27,84.92 L473.57,84.78 L474.86,84.64 L476.15,84.48 L477.42,84.33 L478.68,84.18 L479.97,84.02 L481.32,83.83 L482.70,83.61 L484.10,83.38 L485.50,83.14 L486.90,82.89 L488.27,82.65 L489.61,82.41 L490.90,82.19 L492.12,81.99 L493.27,81.82 L494.34,81.68 L495.35,81.50 L496.32,81.32 L497.23,81.15 L498.07,80.99 L498.86,80.85 L499.59,80.72 L500.27,80.62 L500.90,80.54 L501.48,80.50 L502.01,80.49 L502.52,80.51 L503.00,80.56 L503.47,80.65 L503.93,80.78 L504.37,80.94 L504.79,81.13 L505.20,81.34 L505.59,81.58 L505.97,81.84 L506.32,82.13 L506.66,82.44 L506.97,82.76 L507.26,83.10 L507.53,83.46 L507.74,83.84 L507.91,84.23 L508.06,84.63 L508.19,85.05 L508.29,85.48 L508.38,85.93 L508.44,86.42 L508.48,86.93 L508.49,87.48 L508.49,88.07 L508.46,88.71 L508.40,89.38 L508.33,90.08 L508.22,90.82 L508.07,91.63 L507.89,92.48 L507.69,93.37 L507.45,94.30 L507.20,95.27 L506.93,96.26 L506.65,97.27 L506.36,98.31 L506.06,99.36 L505.77,100.42 L505.51,101.50 L505.23,102.60 L504.93,103.74 L504.62,104.91 L504.30,106.09 L503.96,107.29 L503.63,108.49 L503.29,109.70 L502.95,110.91 L502.62,112.10 L502.29,113.27 L501.99,114.40 L501.66,115.51 L501.27,116.67 L500.84,117.88 L500.39,119.12 L499.94,120.37 L499.50,121.61 L499.09,122.83 L498.74,124.01 L498.45,125.16 L498.26,126.27 L498.21,127.37 L498.36,128.47 L498.74,129.48 L499.35,130.34 L500.14,131.00 L501.00,131.42 L501.87,131.66 L502.72,131.77 L503.57,131.80 L504.43,131.78 L505.30,131.73 L506.18,131.65 L507.07,131.57 L508.03,131.49 L509.11,131.37 L510.29,131.17 L511.53,130.93 L512.81,130.64 L514.13,130.32 L515.48,129.98 L516.84,129.63 L518.20,129.30 L519.55,128.97 L520.87,128.68 L522.14,128.43 L523.39,128.22 L524.65,127.95 L525.93,127.66 L527.19,127.35 L528.42,127.06 L529.63,126.78 L530.82,126.53 L531.99,126.32 L533.14,126.16 L534.27,126.07 L535.40,126.04 L536.51,126.10 L537.61,126.25 L538.79,126.48 L540.09,126.87 L541.49,127.40 L542.95,128.04 L544.42,128.75 L545.89,129.51 L547.31,130.27 L548.66,131.02 L549.91,131.71 L551.03,132.31 L552.01,132.81 L552.80,133.14 L553.20,132.46 L552.54,131.94 L551.70,131.28 L550.70,130.50 L549.57,129.62 L548.32,128.68 L546.99,127.72 L545.59,126.75 L544.16,125.81 L542.71,124.93 L541.25,124.14 L539.81,123.47 L538.39,122.95 L536.99,122.64 L535.61,122.47 L534.23,122.39 L532.88,122.40 L531.53,122.49 L530.21,122.62 L528.90,122.80 L527.61,123.00 L526.34,123.21 L525.09,123.42 L523.86,123.61 L522.61,123.78 L521.29,124.03 L519.91,124.33 L518.52,124.67 L517.12,125.03 L515.74,125.40 L514.38,125.77 L513.06,126.13 L511.79,126.46 L510.60,126.75 L509.49,127.00 L508.49,127.19 L507.57,127.31 L506.67,127.41 L505.77,127.51 L504.95,127.59 L504.20,127.65 L503.55,127.69 L503.02,127.68 L502.62,127.64 L502.37,127.59 L502.28,127.56 L502.28,127.58 L502.28,127.59 L502.24,127.53 L502.22,127.28 L502.27,126.76 L502.41,126.02 L502.65,125.12 L502.97,124.09 L503.37,122.97 L503.80,121.78 L504.27,120.56 L504.74,119.31 L505.20,118.05 L505.64,116.80 L506.01,115.60 L506.36,114.45 L506.71,113.29 L507.08,112.12 L507.45,110.93 L507.82,109.73 L508.19,108.52 L508.55,107.32 L508.91,106.13 L509.26,104.96 L509.60,103.80 L509.93,102.67 L510.23,101.58 L510.48,100.51 L510.74,99.46 L511.00,98.41 L511.26,97.37 L511.50,96.34 L511.73,95.32 L511.95,94.32 L512.14,93.34 L512.31,92.37 L512.44,91.43 L512.54,90.51 L512.60,89.62 L512.60,88.79 L512.57,88.00 L512.51,87.24 L512.42,86.50 L512.30,85.80 L512.14,85.12 L511.94,84.46 L511.72,83.83 L511.45,83.22 L511.16,82.64 L510.83,82.08 L510.47,81.54 L510.11,81.00 L509.72,80.47 L509.30,79.96 L508.83,79.46 L508.33,78.99 L507.80,78.55 L507.22,78.13 L506.61,77.75 L505.96,77.41 L505.27,77.10 L504.56,76.85 L503.80,76.64 L503.02,76.49 L502.24,76.39 L501.45,76.35 L500.66,76.35 L499.86,76.39 L499.06,76.45 L498.24,76.54 L497.39,76.65 L496.52,76.76 L495.62,76.88 L494.67,77.00 L493.66,77.12 L492.55,77.31 L491.36,77.52 L490.10,77.76 L488.79,78.02 L487.45,78.29 L486.08,78.57 L484.70,78.85 L483.33,79.12 L481.97,79.37 L480.64,79.61 L479.36,79.83 L478.12,80.02 L476.88,80.20 L475.61,80.38 L474.33,80.57 L473.06,80.75 L471.81,80.92 L470.59,81.07 L469.41,81.19 L468.29,81.29 L467.24,81.36 L466.27,81.39 L465.40,81.37 L464.66,81.32 L464.04,81.22 L463.54,81.09 L463.12,80.94 L462.76,80.76 L462.42,80.56 L462.10,80.31 L461.77,80.03 L461.41,79.70 L461.03,79.32 L460.61,78.91 L460.13,78.48 L459.62,78.05 L459.11,77.65 L458.62,77.26 L458.13,76.87 L457.65,76.47 L457.18,76.07 L456.73,75.67 L456.29,75.26 L455.88,74.84 L455.49,74.42 L455.12,73.98 L454.79,73.54 L454.49,73.07 L454.21,72.56 L453.94,72.02 L453.68,71.47 L453.45,70.91 L453.23,70.33 L453.03,69.73 L452.85,69.12 L452.70,68.50 L452.56,67.85 L452.45,67.18 L452.36,66.50 L452.29,65.79 L452.27,65.04 L452.26,64.26 L452.28,63.43 L452.33,62.59 L452.39,61.71 L452.48,60.83 L452.59,59.93 L452.72,59.03 L452.87,58.14 L453.04,57.25 L453.23,56.38 L453.44,55.52 L453.66,54.66 L453.91,53.78 L454.18,52.89 L454.48,51.98 L454.80,51.08 L455.14,50.18 L455.49,49.29 L455.86,48.43 L456.24,47.59 L456.63,46.78 L457.02,46.02 L457.41,45.33 L457.66,44.60 L457.98,43.86 L458.35,43.09 L458.77,42.31 L459.21,41.55 L459.66,40.80 L460.11,40.07 L460.54,39.38 L460.93,38.74 L461.28,38.14 L461.57,37.60 L461.76,37.14Z" fill="#88d0ec" fill-opacity="0.88" stroke="#6cb8da" stroke-width="0.5" stroke-linejoin="round"/><path d="M458.50,72.10 L460.73,76.33 L465.44,77.14 L462.11,80.57 L462.79,85.31 L458.50,83.20 L454.21,85.31 L454.89,80.57 L451.56,77.14 L456.27,76.33Z" fill="#d81e28" stroke="#6e1418" stroke-width="1.0" stroke-linejoin="round"/><path d="M500.30,120.70 L502.53,124.93 L507.24,125.74 L503.91,129.17 L504.59,133.91 L500.30,131.80 L496.01,133.91 L496.69,129.17 L493.36,125.74 L498.07,124.93Z" fill="#d81e28" stroke="#6e1418" stroke-width="1.0" stroke-linejoin="round"/><g stroke="#8a8a8a" stroke-width="1.2" fill="none">
<path d="M212,179.2 L288.4,150.2 L251.8,182.2 M288.4,150.2 L305.4,179.2 M288.4,150.2 L351.3,181"/></g>
<path d="M205,350.2 L260.6,370.8 L311.7,352" stroke="#b3b3b3" stroke-width="1.3" fill="none"/>
<g stroke="#5a5a5a" stroke-width="1.1" fill="none"><path d="M473.2,313.4 L463.5,433.5"/><path d="M575.7,306.1 L539.7,435"/></g><g font-family="Liberation Sans, sans-serif" font-size="20.3" fill="#1b1b1b" stroke="#1b1b1b" stroke-width="0.2"><text x="569.8" y="114.9" textLength="75.0" lengthAdjust="spacingAndGlyphs">labelled</text><text x="654.5" y="114.9" textLength="58.01" lengthAdjust="spacingAndGlyphs">target</text><text x="720.7" y="114.9" textLength="88.02" lengthAdjust="spacingAndGlyphs">(sample)</text><text x="251.7" y="140.6" textLength="46.51" lengthAdjust="spacingAndGlyphs">fixed</text><text x="306.2" y="140.6" textLength="66.5" lengthAdjust="spacingAndGlyphs">probes</text><text x="172.7" y="393.6" textLength="81.99" lengthAdjust="spacingAndGlyphs">different</text><text x="264.7" y="393.6" textLength="80.5" lengthAdjust="spacingAndGlyphs">features</text><text x="172.7" y="416.7" textLength="45.55" lengthAdjust="spacingAndGlyphs">(e.g.</text><text x="227.3" y="416.7" textLength="41.0" lengthAdjust="spacingAndGlyphs">bind</text><text x="276.7" y="416.7" textLength="82.51" lengthAdjust="spacingAndGlyphs">different</text><text x="368.2" y="416.7" textLength="66.51" lengthAdjust="spacingAndGlyphs">genes)</text><text x="279.1" y="454.7" textLength="43.98" lengthAdjust="spacingAndGlyphs">Fully</text><text x="332.0" y="454.7" textLength="154.5" lengthAdjust="spacingAndGlyphs">complementary</text><text x="279.1" y="477.9" textLength="73.0" lengthAdjust="spacingAndGlyphs">strands</text><text x="359.2" y="477.9" textLength="42.5" lengthAdjust="spacingAndGlyphs">bind</text><text x="408.3" y="477.9" textLength="79.49" lengthAdjust="spacingAndGlyphs">strongly</text><text x="507.3" y="456.6" textLength="79.02" lengthAdjust="spacingAndGlyphs">Partially</text><text x="595.9" y="456.6" textLength="151.49" lengthAdjust="spacingAndGlyphs">complementary</text><text x="508.3" y="480.3" textLength="75.0" lengthAdjust="spacingAndGlyphs">strands</text><text x="590.7" y="480.3" textLength="39.0" lengthAdjust="spacingAndGlyphs">bind</text><text x="638.0" y="480.3" textLength="66.03" lengthAdjust="spacingAndGlyphs">weakly</text></g>
</svg></body></html>
